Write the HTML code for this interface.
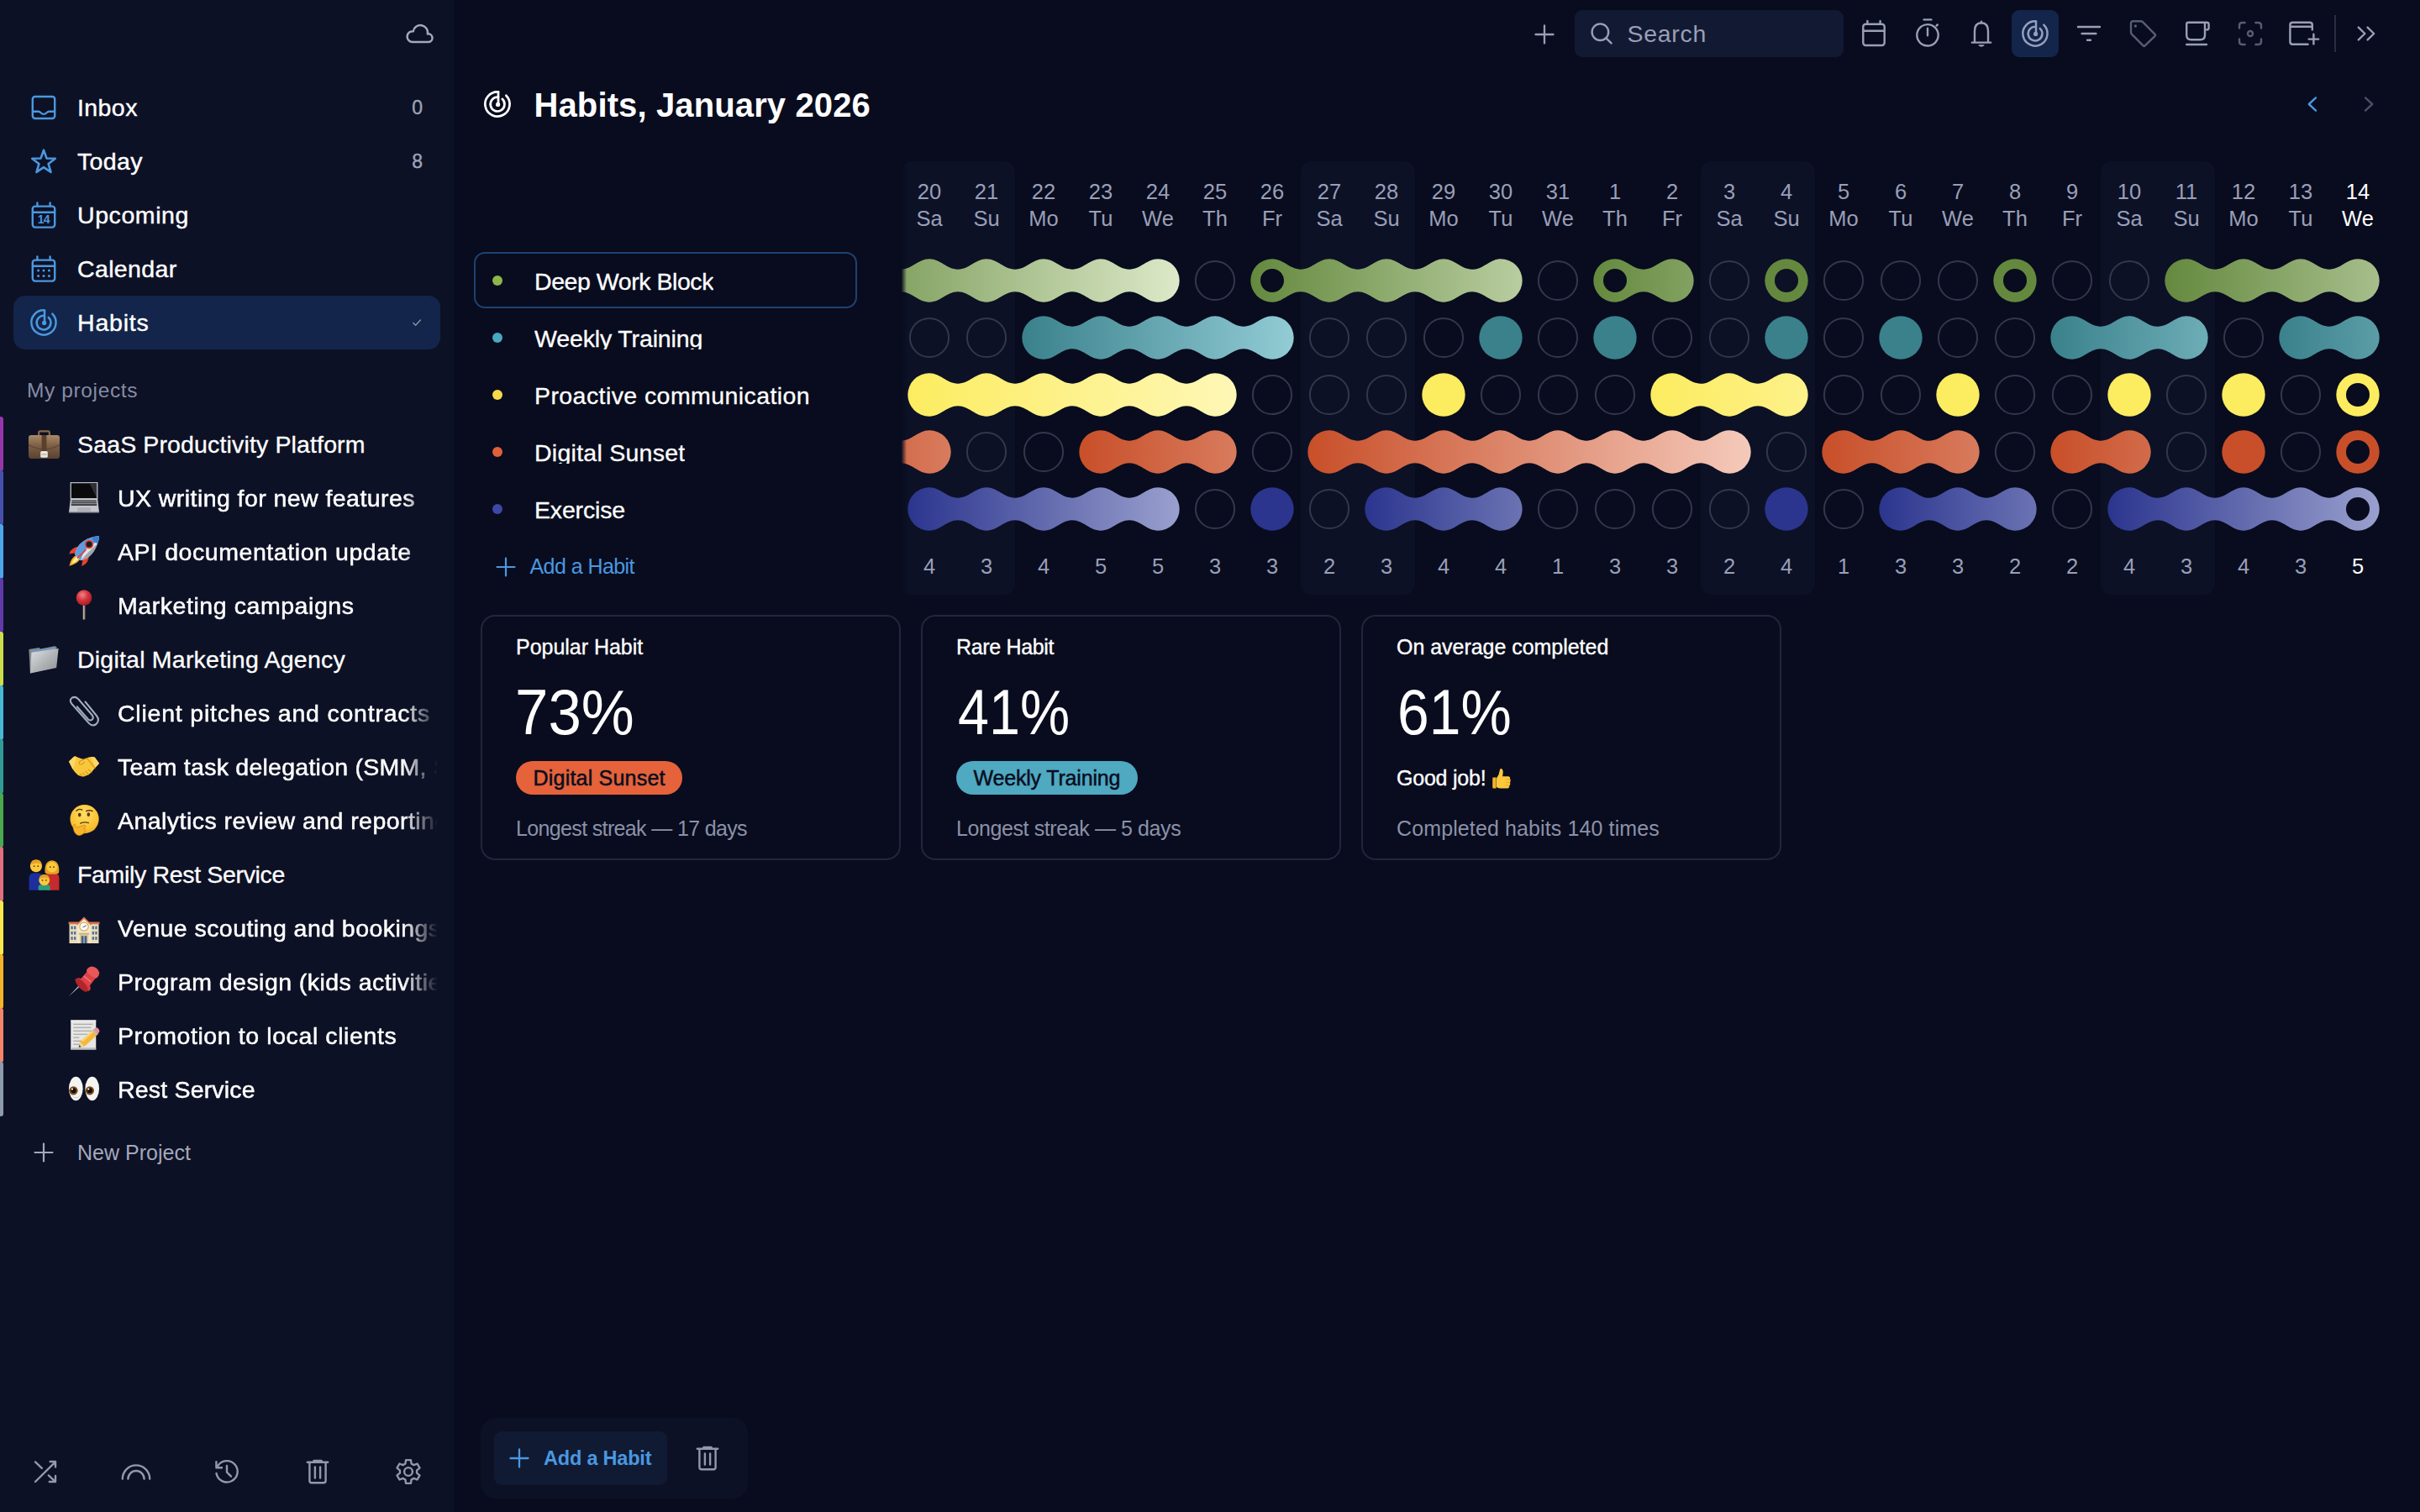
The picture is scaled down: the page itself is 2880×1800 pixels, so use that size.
<!DOCTYPE html>
<html lang="en"><head><meta charset="utf-8"><title>Habits</title><style>html,body{margin:0;padding:0}
body{width:2880px;height:1800px;overflow:hidden;background:#080c1e;font-family:"Liberation Sans", sans-serif;color:#fff;position:relative}
.a{position:absolute;box-sizing:content-box}
.t{position:absolute;white-space:nowrap}
svg{overflow:visible}</style></head><body>
<div class="a" style="left:0;top:0;width:540px;height:1800px;background:#0d1125"></div>
<svg class="a" style="left:480.0px;top:20.0px" width="40" height="40" viewBox="-20.0 -20.0 40 40" fill="none" stroke="#a4a9bf" stroke-width="2.5" stroke-linecap="round" stroke-linejoin="round"><path d="M-9.6 10.1H10.4A4.85 4.85 0 1 0 8.8 0.4A8.65 8.65 0 1 0 -8.2 -2.8A6.4 6.4 0 0 0 -9.6 10.1Z"/></svg>
<div class="a" style="left:16px;top:352px;width:508px;height:64px;border-radius:14px;background:#13254a"></div>
<svg class="a" style="left:34.0px;top:110.0px" width="36" height="36" viewBox="-18.0 -18.0 36 36" fill="none" stroke="#4a98e0" stroke-width="2.4" stroke-linecap="round" stroke-linejoin="round"><rect x="-13.2" y="-13" width="26.4" height="26" rx="3"/><path d="M-13 4.7H-6.6Q-4.9 4.7 -3.7 6Q0 9.8 3.7 6Q4.9 4.7 6.6 4.7H13"/></svg>
<svg class="a" style="left:34.0px;top:174.0px" width="36" height="36" viewBox="-18.0 -18.0 36 36" fill="none" stroke="#4a98e0" stroke-width="2.6" stroke-linecap="round" stroke-linejoin="round"><path d="M0.00 -13.30 L3.47 -3.57 L13.79 -3.28 L5.61 3.02 L8.52 12.93 L0.00 7.10 L-8.52 12.93 L-5.61 3.02 L-13.79 -3.28 L-3.47 -3.57Z"/></svg>
<svg class="a" style="left:34.0px;top:239.2px" width="36" height="36" viewBox="-18.0 -18.0 36 36" fill="none" stroke="#4a98e0" stroke-width="2.4" stroke-linecap="round" stroke-linejoin="round"><rect x="-13.2" y="-11.4" width="26.4" height="25" rx="3"/><path d="M-13 -4.2H13M-7.6 -15.6V-11.6M7.6 -15.6V-11.6"/><text x="-0.3" y="8.7" text-anchor="middle" font-family="Liberation Sans, sans-serif" font-size="14" font-weight="700" letter-spacing="-0.9" fill="#4a98e0" stroke="none">14</text></svg>
<svg class="a" style="left:34.0px;top:303.2px" width="36" height="36" viewBox="-18.0 -18.0 36 36" fill="none" stroke="#4a98e0" stroke-width="2.4" stroke-linecap="round" stroke-linejoin="round"><rect x="-13.2" y="-11.4" width="26.4" height="25" rx="3"/><path d="M-13 -4.2H13M-7.6 -15.6V-11.6M7.6 -15.6V-11.6"/><circle cx="-6.4" cy="1.1" r="1.5" fill="#4a98e0" stroke="none"/><circle cx="-6.4" cy="7.6" r="1.5" fill="#4a98e0" stroke="none"/><circle cx="0" cy="1.1" r="1.5" fill="#4a98e0" stroke="none"/><circle cx="0" cy="7.6" r="1.5" fill="#4a98e0" stroke="none"/><circle cx="6.4" cy="1.1" r="1.5" fill="#4a98e0" stroke="none"/><circle cx="6.4" cy="7.6" r="1.5" fill="#4a98e0" stroke="none"/></svg>
<svg class="a" style="left:32.0px;top:363.6px" width="40.0" height="40.0" viewBox="-20.0 -20.0 40 40" fill="none" stroke="#4a98e0" stroke-width="2.5" stroke-linecap="round" stroke-linejoin="round"><path d="M1 -14.60 A14.6 14.6 0 1 0 10.32 -10.32"/><path d="M1 -14.60 V0"/><path d="M1 -8.30 A8.4 8.4 0 1 0 5.73 -6.14"/><circle cx="0.6" cy="0.4" r="2.6" fill="#4a98e0" stroke="none"/></svg>
<div class="t" style="top:108.5px;height:39px;line-height:39px;font-size:28.5px;color:#fff;letter-spacing:0.416px;-webkit-text-stroke:0.4px #fff;left:92px;">Inbox</div>
<div class="t" style="top:112.0px;height:32px;line-height:32px;font-size:23px;color:#9ea3b8;-webkit-text-stroke:0.4px #9ea3b8;right:2377px;text-align:right;">0</div>
<div class="t" style="top:172.5px;height:39px;line-height:39px;font-size:28.5px;color:#fff;letter-spacing:0.334px;-webkit-text-stroke:0.4px #fff;left:92px;">Today</div>
<div class="t" style="top:176.0px;height:32px;line-height:32px;font-size:23px;color:#9ea3b8;-webkit-text-stroke:0.4px #9ea3b8;right:2377px;text-align:right;">8</div>
<div class="t" style="top:236.5px;height:39px;line-height:39px;font-size:28.5px;color:#fff;letter-spacing:0.584px;-webkit-text-stroke:0.4px #fff;left:92px;">Upcoming</div>
<div class="t" style="top:300.5px;height:39px;line-height:39px;font-size:28.5px;color:#fff;letter-spacing:0.363px;-webkit-text-stroke:0.4px #fff;left:92px;">Calendar</div>
<div class="t" style="top:364.5px;height:39px;line-height:39px;font-size:28.5px;color:#fff;letter-spacing:0.801px;-webkit-text-stroke:0.4px #fff;left:92px;">Habits</div>
<svg class="a" style="left:487.5px;top:376.0px" width="16" height="16" viewBox="-8.0 -8.0 16 16" fill="none" stroke="#8d92a8" stroke-width="1.4" stroke-linecap="round" stroke-linejoin="round"><path d="M-4.2 0.6L-1.4 3.2L4.4 -3"/></svg>
<div class="t" style="top:447.5px;height:34px;line-height:34px;font-size:24.5px;color:#868ca4;letter-spacing:0.623px;left:32px;">My projects</div>
<div class="a" style="left:0;top:496px;width:4px;height:65px;border-radius:0 3px 3px 0;background:#9636ab"></div>
<svg class="a" style="left:32.5px;top:510.0px" width="39" height="39" viewBox="0 0 40 40" preserveAspectRatio="none"><title>💼</title><defs><linearGradient id="gbc" x1="0" y1="0" x2="0" y2="1"><stop offset="0" stop-color="#a98a68"/><stop offset=".45" stop-color="#7d6046"/><stop offset="1" stop-color="#5b4330"/></linearGradient></defs>
<path d="M13.5 8.5V5.2Q13.5 3.4 15.3 3.4H24.7Q26.5 3.4 26.5 5.2V8.5" fill="none" stroke="#8a6a48" stroke-width="2.2"/>
<rect x="1" y="8.2" width="38" height="28.6" rx="3.2" fill="url(#gbc)"/>
<path d="M1 20Q20 31 39 20" fill="none" stroke="#4f3a28" stroke-width="1.2" opacity=".7"/>
<rect x="17" y="8.2" width="6" height="22" fill="#5a3f2a"/>
<rect x="15.6" y="27.6" width="8.8" height="8" rx="1.6" fill="#e9e6e2"/><rect x="17" y="31" width="6" height="1.4" fill="#b9b4ae"/></svg>
<div class="t" style="top:509.5px;height:39px;line-height:39px;font-size:28.5px;color:#fff;letter-spacing:0.141px;-webkit-text-stroke:0.3px #fff;left:92px;width:436px;overflow:hidden;white-space:nowrap;">SaaS Productivity Platform</div>
<div class="a" style="left:0;top:560px;width:4px;height:65px;border-radius:0 3px 3px 0;background:#4650ac"></div>
<svg class="a" style="left:81.0px;top:572.0px" width="38" height="40" viewBox="0 0 40 40" preserveAspectRatio="none"><title>💻</title><path d="M3.4 2.6H36.6V21.6H3.4Z" fill="#0a0a0c" stroke="#b9bcc2" stroke-width="1.4"/>
<path d="M27 3.4H35.8V20.8Z" fill="#2e3034"/>
<path d="M3 22H37L39 38H1Z" fill="#c3c6cb"/>
<path d="M4.6 23.4H35.4L36.2 30H3.8Z" fill="#3c3e44"/>
<path d="M4.2 25.4H35.8M4 27.6H36" stroke="#c3c6cb" stroke-width=".7"/>
<path d="M12 32.2H28L28.6 36.8H11.4Z" fill="#aeb1b7"/>
<path d="M1 37H39V38.4H1Z" fill="#90939a"/></svg>
<div class="t" style="top:573.5px;height:39px;line-height:39px;font-size:28.5px;color:#fff;letter-spacing:0.437px;-webkit-text-stroke:0.5px #fff;left:140px;width:380px;overflow:hidden;white-space:nowrap;-webkit-mask-image:linear-gradient(90deg,#000 340px,transparent 381px);">UX writing for new features</div>
<div class="a" style="left:0;top:624px;width:4px;height:65px;border-radius:0 3px 3px 0;background:#4ca6ec"></div>
<svg class="a" style="left:81.0px;top:637.0px" width="38" height="38" viewBox="0 0 40 40" preserveAspectRatio="none"><title>🚀</title><path d="M11 22L1.4 23.6Q4.6 14 16 14.6Z" fill="#e5432e"/>
<path d="M18.6 29.6L17 39Q26.6 35.6 26 24.6Z" fill="#e5432e"/>
<path d="M10.6 25Q3.4 28.6 1.6 38.6Q11.4 36.6 15.6 29.6Z" fill="#fbb42c"/>
<path d="M11.4 27Q6.6 29.8 4.8 35.4Q10.2 33.8 13.6 29.4Z" fill="#fff3a8"/>
<path d="M8.6 24.4Q11 9 29.6 3Q36 1 39 1.2Q39.2 4 37 10.6Q30.6 29 16 31.8Z" fill="#e1e5ea"/>
<path d="M8.6 24.4Q11 9 29.6 3Q31.4 7 36.4 8.6Q20 14 16 31.8Z" fill="#5e9be0"/>
<path d="M29.6 3Q36 1 39 1.2Q39.2 4 37 10.6Q31.4 9.6 29.6 3Z" fill="#3f7fd0"/>
<path d="M22 25Q29 18 37 10.6Q30.6 29 16 31.8Z" fill="#8e949e" opacity=".8"/>
<circle cx="26.4" cy="11.6" r="4.6" fill="#1c1c22" stroke="#e5432e" stroke-width="1.8"/>
<path d="M11.6 29L22.6 18" stroke="#e5432e" stroke-width="1.8"/></svg>
<div class="t" style="top:637.5px;height:39px;line-height:39px;font-size:28.5px;color:#fff;letter-spacing:0.569px;-webkit-text-stroke:0.5px #fff;left:140px;width:380px;overflow:hidden;white-space:nowrap;-webkit-mask-image:linear-gradient(90deg,#000 340px,transparent 381px);">API documentation update</div>
<div class="a" style="left:0;top:688px;width:4px;height:65px;border-radius:0 3px 3px 0;background:#5f3aa8"></div>
<svg class="a" style="left:81.0px;top:701.0px" width="38" height="38" viewBox="0 0 40 40" preserveAspectRatio="none"><title>📍</title><defs><radialGradient id="grp" cx=".4" cy=".32" r=".7"><stop offset="0" stop-color="#f2838a"/><stop offset=".5" stop-color="#d8343c"/><stop offset="1" stop-color="#9c1d26"/></radialGradient></defs>
<rect x="18.8" y="18" width="2.6" height="20.4" fill="#9a8878"/><rect x="18.8" y="18" width="1" height="20.4" fill="#c9bdb0"/>
<circle cx="20" cy="11.2" r="9.8" fill="url(#grp)"/></svg>
<div class="t" style="top:701.5px;height:39px;line-height:39px;font-size:28.5px;color:#fff;letter-spacing:0.562px;-webkit-text-stroke:0.5px #fff;left:140px;width:380px;overflow:hidden;white-space:nowrap;-webkit-mask-image:linear-gradient(90deg,#000 340px,transparent 381px);">Marketing campaigns</div>
<div class="a" style="left:0;top:752px;width:4px;height:65px;border-radius:0 3px 3px 0;background:#cbdc4c"></div>
<svg class="a" style="left:32.5px;top:767.0px" width="39" height="37" viewBox="0 0 40 40" preserveAspectRatio="none"><title>📁</title><defs><linearGradient id="gfo" x1="0" y1="0" x2="1" y2="1"><stop offset="0" stop-color="#dfe1e3"/><stop offset=".5" stop-color="#b4b7ba"/><stop offset="1" stop-color="#8c8f92"/></linearGradient></defs>
<path d="M1.4 6.6L14 4.2L15.4 6L34 2.2V30L3 37.4Z" fill="#85888c"/>
<path d="M4 8.4L35.6 3.6V5L4.6 10.2Z" fill="#6e9ac8"/>
<path d="M4.6 10.600000000000001L37.6 5.4L35 30.2L3 37.4Z" fill="url(#gfo)"/></svg>
<div class="t" style="top:765.5px;height:39px;line-height:39px;font-size:28.5px;color:#fff;letter-spacing:0.219px;-webkit-text-stroke:0.3px #fff;left:92px;width:436px;overflow:hidden;white-space:nowrap;">Digital Marketing Agency</div>
<div class="a" style="left:0;top:816px;width:4px;height:65px;border-radius:0 3px 3px 0;background:#45b9d6"></div>
<svg class="a" style="left:81.0px;top:829.0px" width="38" height="38" viewBox="0 0 40 40" preserveAspectRatio="none"><title>📎</title><path d="M21.5 6.8L36 24.6Q40 30.2 35.4 34.6Q30.6 38.4 26 33.6L4.6 9.4Q1 4.6 5 1.8Q9.4 -0.6 13 3.6L30.2 23.6Q32.6 27 30 29.2Q27.200000000000003 31 25 28.6L11.4 13" fill="none" stroke="#b9c6d6" stroke-width="2.1" stroke-linecap="round"/>
<path d="M21.5 6.8L36 24.6Q40 30.2 35.4 34.6Q30.6 38.4 26 33.6L4.6 9.4Q1 4.6 5 1.8Q9.4 -0.6 13 3.6L30.2 23.6Q32.6 27 30 29.2Q27.200000000000003 31 25 28.6L11.4 13" fill="none" stroke="#6f8098" stroke-width=".6" stroke-linecap="round"/></svg>
<div class="t" style="top:829.5px;height:39px;line-height:39px;font-size:28.5px;color:#fff;letter-spacing:0.785px;-webkit-text-stroke:0.5px #fff;left:140px;width:380px;overflow:hidden;white-space:nowrap;-webkit-mask-image:linear-gradient(90deg,#000 340px,transparent 381px);">Client pitches and contracts</div>
<div class="a" style="left:0;top:880px;width:4px;height:65px;border-radius:0 3px 3px 0;background:#2f9c94"></div>
<svg class="a" style="left:81.0px;top:893.0px" width="38" height="38" viewBox="0 0 40 40" preserveAspectRatio="none"><title>🤝</title><path d="M1 14.2L7.4 8.2Q9 7.4 10.6 8.4L16 10.4L20 11.6L24.6 9.6Q29 7.6 33.4 9L39 16.7L33.6 22.6L29.2 27.9Q26 31.6 20.8 33Q16.4 33.6 12.4 31.3Q8.4 28 5.7 23.6Z" fill="#f8c73c"/>
<path d="M1 14.2L7.4 8.2Q9 7.4 10.6 8.4L6.6 22.4L5.7 23.6Z" fill="#fbd969"/>
<path d="M39 16.7L33.4 9Q31 8.2 29 8.6L34.4 21.6Z" fill="#fbd969"/>
<path d="M14.6 14.2L21.6 10.8Q24 10.4 25.6 12.4L33.6 22.6" fill="none" stroke="#d9981c" stroke-width="1.3" stroke-linecap="round"/>
<path d="M14.6 14.2Q12.6 17.6 15.6 18.2Q18.6 17.6 20.6 15" fill="none" stroke="#d9981c" stroke-width="1.2" stroke-linecap="round"/>
<path d="M25.6 24.4L29.2 27.9M22 26.8L25.6 30.4M18.4 28.6L21.6 32M15 29.6L17.4 32.4" fill="none" stroke="#d9981c" stroke-width="1.2" stroke-linecap="round"/></svg>
<div class="t" style="top:893.5px;height:39px;line-height:39px;font-size:28.5px;color:#fff;letter-spacing:0.25px;-webkit-text-stroke:0.5px #fff;left:140px;width:380px;overflow:hidden;white-space:nowrap;-webkit-mask-image:linear-gradient(90deg,#000 340px,transparent 381px);">Team task delegation (SMM, SEO)</div>
<div class="a" style="left:0;top:944px;width:4px;height:65px;border-radius:0 3px 3px 0;background:#4aa84e"></div>
<svg class="a" style="left:81.0px;top:957.0px" width="38" height="38" viewBox="0 0 40 40" preserveAspectRatio="none"><title>🤔</title><defs><radialGradient id="gth" cx=".5" cy=".35" r=".75"><stop offset="0" stop-color="#ffe064"/><stop offset=".7" stop-color="#fbbf30"/><stop offset="1" stop-color="#e79a1c"/></radialGradient></defs>
<circle cx="20.6" cy="19" r="18" fill="url(#gth)"/>
<ellipse cx="14.4" cy="13.8" rx="1.9" ry="2.5" fill="#5a3a14"/><ellipse cx="25.6" cy="13.4" rx="1.9" ry="2.5" fill="#5a3a14"/>
<path d="M10.4 8.6Q14 5.4 17.6 7.6M22.8 9.2Q26.4 7.2 30.6 9" fill="none" stroke="#5a3a14" stroke-width="1.5" stroke-linecap="round"/>
<path d="M15.6 24.4Q20.4 22 25.6 23.8" fill="none" stroke="#5a3a14" stroke-width="1.5" stroke-linecap="round"/>
<path d="M6.6 30.6Q5.4 26.4 8.4 25.4L10.6 30L19.6 26.6Q22 26.4 22 28.4Q21.8 29.8 19.6 30.6Q22 31.6 21.4 34Q20.4 38 14.6 39.4Q8.4 39.8 6.6 30.6Z" fill="#f7b52c" stroke="#d98c14" stroke-width=".9"/></svg>
<div class="t" style="top:957.5px;height:39px;line-height:39px;font-size:28.5px;color:#fff;letter-spacing:0.45px;-webkit-text-stroke:0.5px #fff;left:140px;width:380px;overflow:hidden;white-space:nowrap;-webkit-mask-image:linear-gradient(90deg,#000 340px,transparent 381px);">Analytics review and reporting</div>
<div class="a" style="left:0;top:1008px;width:4px;height:65px;border-radius:0 3px 3px 0;background:#e0707e"></div>
<svg class="a" style="left:32.5px;top:1021.5px" width="39" height="39" viewBox="0 0 40 40" preserveAspectRatio="none"><title>👨‍👩‍👦</title><path d="M1.6 38.6V24Q1.6 17.6 8 17.6H12.6Q18.6 17.6 18.6 24V38.6Z" fill="#1c2f9c"/>
<path d="M21.4 38.6V24Q21.4 17.6 27 17.6H32Q38.4 17.6 38.4 24V38.6Z" fill="#c62a2c"/>
<path d="M21.2 17.6Q19.6 3 29.6 2.2Q39.6 3 38 17.6Q34 20 29.6 19Q25 20 21.2 17.6Z" fill="#e6a226"/>
<circle cx="29.6" cy="10.6" r="6.4" fill="#fcc83c"/>
<circle cx="10.2" cy="9.4" r="7.2" fill="#fcc83c"/><path d="M3.2 7.6Q4 1.6 10.2 1.4Q16.6 1.6 17.2 7.6Q13 3.8 3.2 7.6Z" fill="#e6a226"/>
<path d="M13 38.6V35.2Q13 32 16.4 32H24Q27.4 32 27.4 35.2V38.6Z" fill="#2e9e7a"/>
<circle cx="20.2" cy="26.4" r="6.6" fill="#fcc83c"/><path d="M13.8 25Q14.4 19.6 20.2 19.4Q26 19.6 26.6 25Q22 21.6 13.8 25Z" fill="#e6a226"/>
<g fill="#5a3a14"><circle cx="7.8" cy="9.4" r=".9"/><circle cx="12.6" cy="9.4" r=".9"/><circle cx="27.400000000000002" cy="10.4" r=".9"/><circle cx="31.8" cy="10.4" r=".9"/><circle cx="18" cy="26.6" r=".9"/><circle cx="22.4" cy="26.6" r=".9"/></g></svg>
<div class="t" style="top:1021.5px;height:39px;line-height:39px;font-size:28.5px;color:#fff;letter-spacing:-0.338px;-webkit-text-stroke:0.3px #fff;left:92px;width:436px;overflow:hidden;white-space:nowrap;">Family Rest Service</div>
<div class="a" style="left:0;top:1072px;width:4px;height:65px;border-radius:0 3px 3px 0;background:#fbe84c"></div>
<svg class="a" style="left:81.0px;top:1089.5px" width="38" height="36" viewBox="0 0 40 40" preserveAspectRatio="none"><title>🏫</title><path d="M1.6 10.6H38.4V36.6H1.6Z" fill="#eadcb8"/>
<path d="M0.6 8.2H39.4V11.4H0.6Z" fill="#d8714e"/>
<path d="M11.6 11L20 2.4L28.4 11V36.6H11.6Z" fill="#f3e7c8"/>
<path d="M10.4 11.6L20 1.6L29.6 11.6L28 12.6L20 4.4L12 12.6Z" fill="#d8714e"/>
<circle cx="20" cy="14.6" r="5.4" fill="#fff" stroke="#c9a24a" stroke-width="1.1"/><path d="M20 14.6L23 13M20 14.6L18.4 15.2" stroke="#333" stroke-width=".9"/>
<g fill="#4a6f9e"><rect x="3.6" y="14" width="2.4" height="4"/><rect x="7.4" y="14" width="2.4" height="4"/><rect x="3.6" y="21" width="2.4" height="4"/><rect x="7.4" y="21" width="2.4" height="4"/><rect x="3.6" y="28" width="2.4" height="4"/><rect x="7.4" y="28" width="2.4" height="4"/>
<rect x="30.2" y="14" width="2.4" height="4"/><rect x="34" y="14" width="2.4" height="4"/><rect x="30.2" y="21" width="2.4" height="4"/><rect x="34" y="21" width="2.4" height="4"/><rect x="30.2" y="28" width="2.4" height="4"/><rect x="34" y="28" width="2.4" height="4"/></g>
<path d="M14.6 24.6H25.4V36.6H14.6Z" fill="#d9c79a"/><path d="M16.6 27H19.4V36.6H16.6ZM20.6 27H23.4V36.6H20.6Z" fill="#3d5f8c"/>
<path d="M13.4 23H26.6V25H13.4Z" fill="#c9b27c"/></svg>
<div class="t" style="top:1085.5px;height:39px;line-height:39px;font-size:28.5px;color:#fff;letter-spacing:0.45px;-webkit-text-stroke:0.5px #fff;left:140px;width:380px;overflow:hidden;white-space:nowrap;-webkit-mask-image:linear-gradient(90deg,#000 340px,transparent 381px);">Venue scouting and bookings</div>
<div class="a" style="left:0;top:1136px;width:4px;height:65px;border-radius:0 3px 3px 0;background:#f5b228"></div>
<svg class="a" style="left:81.0px;top:1149.0px" width="38" height="38" viewBox="0 0 40 40" preserveAspectRatio="none"><title>📌</title><path d="M1 39L16.6 22.6L18 24Z" fill="#9aa4b4"/><path d="M1 39L16.6 22.6L17.2 23.2Z" fill="#e4e8ee"/>
<path d="M8.6 18.6Q10.6 14.6 16.4 16.6Q24 20 27.6 26.4Q29.4 31 25.4 32.6Q20 28 8.6 18.6Z" fill="#d63a3e"/>
<ellipse cx="17" cy="25" rx="4.2" ry="10.6" transform="rotate(-43 17 25)" fill="#b0242c"/>
<path d="M15.6 17.6L25 6.6L35 15.4L26.6 26.6Z" fill="#de4146"/>
<path d="M23 7.6Q23.6 2.6 29.6 1.6Q36.6 2.2 39 8.6Q39.4 13.6 35 16.6Q28 14 23 7.6Z" fill="#e9575a"/>
<path d="M19.6 13.6L28.6 21" stroke="#f08a8c" stroke-width="1.6" opacity=".7"/></svg>
<div class="t" style="top:1149.5px;height:39px;line-height:39px;font-size:28.5px;color:#fff;letter-spacing:0.45px;-webkit-text-stroke:0.5px #fff;left:140px;width:380px;overflow:hidden;white-space:nowrap;-webkit-mask-image:linear-gradient(90deg,#000 340px,transparent 381px);">Program design (kids activities)</div>
<div class="a" style="left:0;top:1200px;width:4px;height:65px;border-radius:0 3px 3px 0;background:#f2846a"></div>
<svg class="a" style="left:81.0px;top:1213.0px" width="38" height="38" viewBox="0 0 40 40" preserveAspectRatio="none"><title>📝</title><path d="M3.4 1.6H35V38.4H3.4Z" fill="#e6e6e4"/><path d="M3.4 1.6H35V3H3.4Z" fill="#f6f6f4"/><path d="M3.4 36H35V38.4H3.4Z" fill="#bdbdbb"/>
<g stroke="#77797e" stroke-width=".9" opacity=".8"><path d="M6.6 6.6H31M6.6 10.8H29M6.6 15H31.6M6.6 19.2H24M6.6 23.4H14M6.6 27.6H20M6.6 31.8H15"/></g>
<path d="M13.4 35.6L15 28.6L31.4 13.6L37 19.6L20.6 34.4Z" fill="#f6b83a"/>
<path d="M16.8 27L33 12.2L34.6 14L18.4 28.8Z" fill="#fbd66a"/>
<path d="M31.4 13.6L34.2 11.2Q36 10.2 37.6 11.8L39 13.6Q40 15.6 38.6 17L37 19.6Z" fill="#ee8e96"/>
<path d="M30.2 14.8L31.8 13.2L37.4 19.2L35.8 20.6Z" fill="#b9bec6"/>
<path d="M13.4 35.6L15 28.6L20.6 34.4Z" fill="#ecd3a4"/><path d="M13.4 35.6L14 32.6L16.4 35Z" fill="#3a3a3a"/></svg>
<div class="t" style="top:1213.5px;height:39px;line-height:39px;font-size:28.5px;color:#fff;letter-spacing:0.595px;-webkit-text-stroke:0.5px #fff;left:140px;width:380px;overflow:hidden;white-space:nowrap;-webkit-mask-image:linear-gradient(90deg,#000 340px,transparent 381px);">Promotion to local clients</div>
<div class="a" style="left:0;top:1264px;width:4px;height:65px;border-radius:0 3px 3px 0;background:#8c9cae"></div>
<svg class="a" style="left:81.0px;top:1277.0px" width="38" height="38" viewBox="0 0 40 40" preserveAspectRatio="none"><title>👀</title><ellipse cx="9.8" cy="20" rx="8.8" ry="15" fill="#f4f4f2"/><ellipse cx="30.2" cy="20" rx="8.8" ry="15" fill="#f4f4f2"/>
<path d="M1.4 24Q9.8 40 18.2 24Q9.8 38 1.4 24Z" fill="#c9c9c7"/>
<circle cx="6.8" cy="22.4" r="5.4" fill="#7a4a1c"/><circle cx="27.2" cy="22.4" r="5.4" fill="#7a4a1c"/>
<circle cx="6.8" cy="22.4" r="3.2" fill="#140c06"/><circle cx="27.2" cy="22.4" r="3.2" fill="#140c06"/>
<circle cx="5.2" cy="20.6" r="1.2" fill="#fff"/><circle cx="25.6" cy="20.6" r="1.2" fill="#fff"/></svg>
<div class="t" style="top:1277.5px;height:39px;line-height:39px;font-size:28.5px;color:#fff;letter-spacing:0.185px;-webkit-text-stroke:0.5px #fff;left:140px;width:380px;overflow:hidden;white-space:nowrap;-webkit-mask-image:linear-gradient(90deg,#000 340px,transparent 381px);">Rest Service</div>
<svg class="a" style="left:36.0px;top:1356.0px" width="32" height="32" viewBox="-16.0 -16.0 32 32" fill="none" stroke="#a3a8bc" stroke-width="2.2" stroke-linecap="round" stroke-linejoin="round"><path d="M-10.5 0H10.5M0 -10.5V10.5"/></svg>
<div class="t" style="top:1354.5px;height:35px;line-height:35px;font-size:25px;color:#a3a8bc;letter-spacing:0.023px;left:92px;">New Project</div>
<svg class="a" style="left:36.0px;top:1734.0px" width="36" height="36" viewBox="-18.0 -18.0 36 36" fill="none" stroke="#9498ad" stroke-width="2.4" stroke-linecap="round" stroke-linejoin="round"><path d="M-12 12L11.6 -11.4M5.6 -12H12V-5.6M-12 -11.6L-4.2 -4.2M3.8 4.4L11.6 11.6M4.8 12H12V5"/></svg>
<svg class="a" style="left:142.0px;top:1732.0px" width="40" height="40" viewBox="-20.0 -20.0 40 40" fill="none" stroke="#9498ad" stroke-width="2.4" stroke-linecap="round" stroke-linejoin="round"><path d="M-16.2 8.6A16.2 16.2 0 0 1 16.2 8.6M-9.6 8.6A9.6 9.6 0 0 1 9.6 8.6"/></svg>
<svg class="a" style="left:252.0px;top:1734.0px" width="36" height="36" viewBox="-18.0 -18.0 36 36" fill="none" stroke="#9498ad" stroke-width="2.4" stroke-linecap="round" stroke-linejoin="round"><path d="M-10.6 -7.2A12.7 12.7 0 1 1 -12.5 2M-12.6 -11.8V-4.8H-6"/><path d="M0 -7V0.6L5 5.6"/></svg>
<svg class="a" style="left:360.0px;top:1734.0px" width="36" height="36" viewBox="-18.0 -18.0 36 36" fill="none" stroke="#9498ad" stroke-width="2.4" stroke-linecap="round" stroke-linejoin="round"><path d="M-12.2 -11.3H12.2"/><path d="M-4.4 -12.6H4.4" stroke-width="3.2"/><path d="M-9.6 -11V10.8Q-9.6 13.3 -7.1 13.3H7.1Q9.6 13.3 9.6 10.8V-11"/><path d="M-3.1 -5.6V7.6M3.1 -5.6V7.6"/></svg>
<svg class="a" style="left:466.0px;top:1732.0px" width="40" height="40" viewBox="-20.0 -20.0 40 40" fill="none" stroke="#9498ad" stroke-width="2.4" stroke-linecap="round" stroke-linejoin="round"><path d="M-3.59 -9.55 L-2.96 -13.89 L2.96 -13.89 L3.59 -9.55 L6.47 -7.88 L10.55 -9.51 L13.51 -4.38 L10.06 -1.66 L10.06 1.66 L13.51 4.38 L10.55 9.51 L6.47 7.88 L3.59 9.55 L2.96 13.89 L-2.96 13.89 L-3.59 9.55 L-6.47 7.88 L-10.55 9.51 L-13.51 4.38 L-10.06 1.66 L-10.06 -1.66 L-13.51 -4.38 L-10.55 -9.51 L-6.47 -7.88Z"/><circle r="4.9"/></svg>
<svg class="a" style="left:1822.0px;top:24.5px" width="32" height="32" viewBox="-16.0 -16.0 32 32" fill="none" stroke="#9a9fb6" stroke-width="2.3" stroke-linecap="round" stroke-linejoin="round"><path d="M-10.5 0H10.5M0 -10.5V10.5"/></svg>
<div class="a" style="left:1874px;top:12px;width:320px;height:56px;border-radius:9px;background:#121a33"></div>
<svg class="a" style="left:1888.0px;top:22.0px" width="36" height="36" viewBox="-18.0 -18.0 36 36" fill="none" stroke="#9a9fb6" stroke-width="2.4" stroke-linecap="round" stroke-linejoin="round"><circle cx="-1.6" cy="-1.8" r="9.8"/><path d="M5.6 5.6L11.6 11.4"/></svg>
<div class="t" style="top:21.0px;height:39px;line-height:39px;font-size:28.5px;color:#9a9fb6;letter-spacing:0.7px;left:1936.5px;">Search</div>
<svg class="a" style="left:2212.0px;top:22.0px" width="36" height="36" viewBox="-18.0 -18.0 36 36" fill="none" stroke="#9a9fb6" stroke-width="2.4" stroke-linecap="round" stroke-linejoin="round"><rect x="-12.7" y="-11.2" width="25.4" height="25.2" rx="3"/><path d="M-12.6 -3.2H12.6M-7.6 -15V-11.4M7.6 -15V-11.4"/></svg>
<svg class="a" style="left:2276.0px;top:22.0px" width="36" height="36" viewBox="-18.0 -18.0 36 36" fill="none" stroke="#9a9fb6" stroke-width="2.4" stroke-linecap="round" stroke-linejoin="round"><circle cx="0" cy="1.8" r="12.7"/><path d="M-4.4 -16.6H4.4M0 -6.2V2.2M10.6 -9.4L11.8 -10.6"/></svg>
<svg class="a" style="left:2340.0px;top:22.0px" width="36" height="36" viewBox="-18.0 -18.0 36 36" fill="none" stroke="#9a9fb6" stroke-width="2.4" stroke-linecap="round" stroke-linejoin="round"><path d="M-11.2 10.6H11.2M-8 10.4V-3.2Q-8 -12.6 0 -12.8Q8 -12.6 8 -3.2V10.4M0 -12.8V-14.4"/><path d="M-3 13.8Q0 16.4 3 13.8Z" fill="#9a9fb6" stroke-width="1.2"/></svg>
<div class="a" style="left:2394px;top:12px;width:56px;height:56px;border-radius:9px;background:#13254a"></div>
<svg class="a" style="left:2402.0px;top:20.0px" width="40.0" height="40.0" viewBox="-20.0 -20.0 40 40" fill="none" stroke="#94a0c0" stroke-width="2.5" stroke-linecap="round" stroke-linejoin="round"><path d="M1 -14.60 A14.6 14.6 0 1 0 10.32 -10.32"/><path d="M1 -14.60 V0"/><path d="M1 -8.30 A8.4 8.4 0 1 0 5.73 -6.14"/><circle cx="0.6" cy="0.4" r="2.6" fill="#94a0c0" stroke="none"/></svg>
<svg class="a" style="left:2468.0px;top:22.0px" width="36" height="36" viewBox="-18.0 -18.0 36 36" fill="none" stroke="#9a9fb6" stroke-width="2.4" stroke-linecap="round" stroke-linejoin="round"><path d="M-13 -8H13M-8.4 0H8.4M-2 7.8H2"/></svg>
<svg class="a" style="left:2530.0px;top:20.0px" width="40" height="40" viewBox="-20.0 -20.0 40 40" fill="none" stroke="#585d74" stroke-width="2.4" stroke-linecap="round" stroke-linejoin="round"><path d="M-14 -12.2Q-14 -14.8 -11.4 -14.8H-2.4Q-1 -14.8 0 -13.8L14.6 0.8Q15.6 1.8 14.6 2.8L2.6 14.4Q1.6 15.4 0.6 14.4L-13.2 0.6Q-14 -0.2 -14 -1.4Z"/><circle cx="-8.6" cy="-9" r="1.7" fill="#585d74" stroke="none"/></svg>
<svg class="a" style="left:2594.0px;top:20.0px" width="40" height="40" viewBox="-20.0 -20.0 40 40" fill="none" stroke="#9a9fb6" stroke-width="2.4" stroke-linecap="round" stroke-linejoin="round"><path d="M-11.8 -11.2Q-11.8 -13.2 -9.8 -13.2H10V1.8Q10 7.2 4.6 7.2H-6.4Q-11.8 7.2 -11.8 1.8ZM10 -13.2H12.4Q14.6 -13.2 14.6 -11V-6.8Q14.6 -4.6 12.4 -4.6H10M-11.8 13H12"/></svg>
<svg class="a" style="left:2658.0px;top:20.0px" width="40" height="40" viewBox="-20.0 -20.0 40 40" fill="none" stroke="#585d74" stroke-width="2.4" stroke-linecap="round" stroke-linejoin="round"><path d="M-13 -6.4V-9.6Q-13 -13 -9.6 -13H-6.4M6.4 -13H9.6Q13 -13 13 -9.6V-6.4M13 6.4V9.6Q13 13 9.6 13H6.4M-6.4 13H-9.6Q-13 13 -13 9.6V6.4"/><circle r="3"/></svg>
<svg class="a" style="left:2720.0px;top:18.0px" width="44" height="44" viewBox="-22.0 -22.0 44 44" fill="none" stroke="#9a9fb6" stroke-width="2.4" stroke-linecap="round" stroke-linejoin="round"><path d="M9.8 -4.6V-10.2Q9.8 -13.2 6.8 -13.2H-13.6Q-16.6 -13.2 -16.6 -10.2V9.8Q-16.6 12.8 -13.6 12.8H4.6M-16.4 -8.2H9.6M5.6 6.6H17.2M11.4 0.8V12.4"/></svg>
<div class="a" style="left:2778px;top:18px;width:2px;height:44px;background:#292d44"></div>
<svg class="a" style="left:2798.0px;top:22.0px" width="36" height="36" viewBox="-18.0 -18.0 36 36" fill="none" stroke="#9a9fb6" stroke-width="2.4" stroke-linecap="round" stroke-linejoin="round"><path d="M-9.2 -7.4L-1.6 0L-9.2 7.4M1.6 -7.4L9.2 0L1.6 7.4"/></svg>
<svg class="a" style="left:572.0px;top:104.2px" width="40.0" height="40.0" viewBox="-20.0 -20.0 40 40" fill="none" stroke="#fff" stroke-width="2.7" stroke-linecap="round" stroke-linejoin="round"><path d="M1 -14.60 A14.6 14.6 0 1 0 10.32 -10.32"/><path d="M1 -14.60 V0"/><path d="M1 -8.30 A8.4 8.4 0 1 0 5.73 -6.14"/><circle cx="0.6" cy="0.4" r="2.6" fill="#fff" stroke="none"/></svg>
<div class="t" style="top:96.5px;height:56px;line-height:56px;font-size:40px;color:#fff;font-weight:700;letter-spacing:0.12px;left:635.5px;">Habits, January 2026</div>
<svg class="a" style="left:2734.0px;top:106.0px" width="36" height="36" viewBox="-18.0 -18.0 36 36" fill="none" stroke="#4a98e0" stroke-width="2.4" stroke-linecap="round" stroke-linejoin="round"><path d="M4 -7.6L-4.2 0L4 7.6"/></svg>
<svg class="a" style="left:2801.0px;top:106.0px" width="36" height="36" viewBox="-18.0 -18.0 36 36" fill="none" stroke="#4a4f68" stroke-width="2.4" stroke-linecap="round" stroke-linejoin="round"><path d="M-4 -7.6L4.2 0L-4 7.6"/></svg>
<div class="a" style="left:564px;top:300px;width:452px;height:63px;border:2px solid #1e4272;border-radius:13px"></div>
<div class="a" style="left:586px;top:328px;width:12px;height:12px;border-radius:6px;background:#8db74a"></div>
<div class="t" style="top:321.5px;height:26px;line-height:26px;font-size:28.5px;color:#fff;letter-spacing:-0.446px;-webkit-text-stroke:0.3px #fff;left:636px;overflow:hidden;">Deep Work Block</div>
<div class="a" style="left:586px;top:396px;width:12px;height:12px;border-radius:6px;background:#49a9c1"></div>
<div class="t" style="top:389.5px;height:26px;line-height:26px;font-size:28.5px;color:#fff;letter-spacing:-0.138px;-webkit-text-stroke:0.3px #fff;left:636px;overflow:hidden;">Weekly Training</div>
<div class="a" style="left:586px;top:464px;width:12px;height:12px;border-radius:6px;background:#f6d94a"></div>
<div class="t" style="top:457.5px;height:26px;line-height:26px;font-size:28.5px;color:#fff;letter-spacing:0.423px;-webkit-text-stroke:0.3px #fff;left:636px;overflow:hidden;">Proactive communication</div>
<div class="a" style="left:586px;top:532px;width:12px;height:12px;border-radius:6px;background:#e0603a"></div>
<div class="t" style="top:525.5px;height:26px;line-height:26px;font-size:28.5px;color:#fff;letter-spacing:0.258px;-webkit-text-stroke:0.3px #fff;left:636px;overflow:hidden;">Digital Sunset</div>
<div class="a" style="left:586px;top:600px;width:12px;height:12px;border-radius:6px;background:#3d47a6"></div>
<div class="t" style="top:593.5px;height:26px;line-height:26px;font-size:28.5px;color:#fff;letter-spacing:-0.171px;-webkit-text-stroke:0.3px #fff;left:636px;overflow:hidden;">Exercise</div>
<svg class="a" style="left:586.0px;top:658.5px" width="32" height="32" viewBox="-16.0 -16.0 32 32" fill="none" stroke="#4a98e0" stroke-width="2.2" stroke-linecap="round" stroke-linejoin="round"><path d="M-10.5 0H10.5M0 -10.5V10.5"/></svg>
<div class="t" style="top:657.0px;height:35px;line-height:35px;font-size:25px;color:#4a98e0;letter-spacing:-0.564px;left:630.5px;">Add a Habit</div>
<svg class="a" style="left:1060px;top:180px;overflow:hidden;-webkit-mask-image:linear-gradient(90deg,transparent 12.5px,#000 19px);mask-image:linear-gradient(90deg,transparent 12.5px,#000 19px)" width="1820" height="540" viewBox="1060 180 1820 540"><defs><linearGradient id="g0_0" gradientUnits="userSpaceOnUse" x1="944.3" y1="0" x2="1403.7" y2="0"><stop offset="0" stop-color="#64893e"/><stop offset="1" stop-color="#dde9c9"/></linearGradient><linearGradient id="g0_1" gradientUnits="userSpaceOnUse" x1="1488.3" y1="0" x2="1811.7" y2="0"><stop offset="0" stop-color="#64893e"/><stop offset="1" stop-color="#b9cda0"/></linearGradient><linearGradient id="g0_2" gradientUnits="userSpaceOnUse" x1="1896.3" y1="0" x2="2015.7" y2="0"><stop offset="0" stop-color="#64893e"/><stop offset="1" stop-color="#83a262"/></linearGradient><linearGradient id="g0_5" gradientUnits="userSpaceOnUse" x1="2576.3" y1="0" x2="2831.7" y2="0"><stop offset="0" stop-color="#64893e"/><stop offset="1" stop-color="#a7be8c"/></linearGradient><linearGradient id="g1_0" gradientUnits="userSpaceOnUse" x1="1216.3" y1="0" x2="1539.7" y2="0"><stop offset="0" stop-color="#3a818c"/><stop offset="1" stop-color="#92ccd5"/></linearGradient><linearGradient id="g1_5" gradientUnits="userSpaceOnUse" x1="2440.3" y1="0" x2="2627.7" y2="0"><stop offset="0" stop-color="#3a818c"/><stop offset="1" stop-color="#6dadb6"/></linearGradient><linearGradient id="g1_6" gradientUnits="userSpaceOnUse" x1="2712.3" y1="0" x2="2831.7" y2="0"><stop offset="0" stop-color="#3a818c"/><stop offset="1" stop-color="#5b9da7"/></linearGradient><linearGradient id="g2_0" gradientUnits="userSpaceOnUse" x1="1080.3" y1="0" x2="1471.7" y2="0"><stop offset="0" stop-color="#fcec60"/><stop offset="1" stop-color="#fef7b6"/></linearGradient><linearGradient id="g2_2" gradientUnits="userSpaceOnUse" x1="1964.3" y1="0" x2="2151.7" y2="0"><stop offset="0" stop-color="#fcec60"/><stop offset="1" stop-color="#fdf189"/></linearGradient><linearGradient id="g3_0" gradientUnits="userSpaceOnUse" x1="944.3" y1="0" x2="1131.7" y2="0"><stop offset="0" stop-color="#c84f29"/><stop offset="1" stop-color="#d87b5d"/></linearGradient><linearGradient id="g3_1" gradientUnits="userSpaceOnUse" x1="1284.3" y1="0" x2="1471.7" y2="0"><stop offset="0" stop-color="#c84f29"/><stop offset="1" stop-color="#d87b5d"/></linearGradient><linearGradient id="g3_2" gradientUnits="userSpaceOnUse" x1="1556.3" y1="0" x2="2083.7" y2="0"><stop offset="0" stop-color="#c84f29"/><stop offset="1" stop-color="#f5cabb"/></linearGradient><linearGradient id="g3_3" gradientUnits="userSpaceOnUse" x1="2168.3" y1="0" x2="2355.7" y2="0"><stop offset="0" stop-color="#c84f29"/><stop offset="1" stop-color="#d87b5d"/></linearGradient><linearGradient id="g3_4" gradientUnits="userSpaceOnUse" x1="2440.3" y1="0" x2="2559.7" y2="0"><stop offset="0" stop-color="#c84f29"/><stop offset="1" stop-color="#d26b4a"/></linearGradient><linearGradient id="g4_0" gradientUnits="userSpaceOnUse" x1="1080.3" y1="0" x2="1403.7" y2="0"><stop offset="0" stop-color="#2b358e"/><stop offset="1" stop-color="#9aa0ce"/></linearGradient><linearGradient id="g4_2" gradientUnits="userSpaceOnUse" x1="1624.3" y1="0" x2="1811.7" y2="0"><stop offset="0" stop-color="#2b358e"/><stop offset="1" stop-color="#6b73b3"/></linearGradient><linearGradient id="g4_4" gradientUnits="userSpaceOnUse" x1="2236.3" y1="0" x2="2423.7" y2="0"><stop offset="0" stop-color="#2b358e"/><stop offset="1" stop-color="#6b73b3"/></linearGradient><linearGradient id="g4_5" gradientUnits="userSpaceOnUse" x1="2508.3" y1="0" x2="2831.7" y2="0"><stop offset="0" stop-color="#2b358e"/><stop offset="1" stop-color="#9aa0ce"/></linearGradient></defs><rect x="1072" y="192" width="136" height="516" rx="13" fill="#0c1126"/><rect x="1548" y="192" width="136" height="516" rx="13" fill="#0c1126"/><rect x="2024" y="192" width="136" height="516" rx="13" fill="#0c1126"/><rect x="2500" y="192" width="136" height="516" rx="13" fill="#0c1126"/><circle cx="1446" cy="334" r="23.1" fill="none" stroke="#34374c" stroke-width="2"/><circle cx="1854" cy="334" r="23.1" fill="none" stroke="#34374c" stroke-width="2"/><circle cx="2058" cy="334" r="23.1" fill="none" stroke="#34374c" stroke-width="2"/><circle cx="2194" cy="334" r="23.1" fill="none" stroke="#34374c" stroke-width="2"/><circle cx="2262" cy="334" r="23.1" fill="none" stroke="#34374c" stroke-width="2"/><circle cx="2330" cy="334" r="23.1" fill="none" stroke="#34374c" stroke-width="2"/><circle cx="2466" cy="334" r="23.1" fill="none" stroke="#34374c" stroke-width="2"/><circle cx="2534" cy="334" r="23.1" fill="none" stroke="#34374c" stroke-width="2"/><circle cx="1106" cy="402" r="23.1" fill="none" stroke="#34374c" stroke-width="2"/><circle cx="1174" cy="402" r="23.1" fill="none" stroke="#34374c" stroke-width="2"/><circle cx="1582" cy="402" r="23.1" fill="none" stroke="#34374c" stroke-width="2"/><circle cx="1650" cy="402" r="23.1" fill="none" stroke="#34374c" stroke-width="2"/><circle cx="1718" cy="402" r="23.1" fill="none" stroke="#34374c" stroke-width="2"/><circle cx="1854" cy="402" r="23.1" fill="none" stroke="#34374c" stroke-width="2"/><circle cx="1990" cy="402" r="23.1" fill="none" stroke="#34374c" stroke-width="2"/><circle cx="2058" cy="402" r="23.1" fill="none" stroke="#34374c" stroke-width="2"/><circle cx="2194" cy="402" r="23.1" fill="none" stroke="#34374c" stroke-width="2"/><circle cx="2330" cy="402" r="23.1" fill="none" stroke="#34374c" stroke-width="2"/><circle cx="2398" cy="402" r="23.1" fill="none" stroke="#34374c" stroke-width="2"/><circle cx="2670" cy="402" r="23.1" fill="none" stroke="#34374c" stroke-width="2"/><circle cx="1514" cy="470" r="23.1" fill="none" stroke="#34374c" stroke-width="2"/><circle cx="1582" cy="470" r="23.1" fill="none" stroke="#34374c" stroke-width="2"/><circle cx="1650" cy="470" r="23.1" fill="none" stroke="#34374c" stroke-width="2"/><circle cx="1786" cy="470" r="23.1" fill="none" stroke="#34374c" stroke-width="2"/><circle cx="1854" cy="470" r="23.1" fill="none" stroke="#34374c" stroke-width="2"/><circle cx="1922" cy="470" r="23.1" fill="none" stroke="#34374c" stroke-width="2"/><circle cx="2194" cy="470" r="23.1" fill="none" stroke="#34374c" stroke-width="2"/><circle cx="2262" cy="470" r="23.1" fill="none" stroke="#34374c" stroke-width="2"/><circle cx="2398" cy="470" r="23.1" fill="none" stroke="#34374c" stroke-width="2"/><circle cx="2466" cy="470" r="23.1" fill="none" stroke="#34374c" stroke-width="2"/><circle cx="2602" cy="470" r="23.1" fill="none" stroke="#34374c" stroke-width="2"/><circle cx="2738" cy="470" r="23.1" fill="none" stroke="#34374c" stroke-width="2"/><circle cx="1174" cy="538" r="23.1" fill="none" stroke="#34374c" stroke-width="2"/><circle cx="1242" cy="538" r="23.1" fill="none" stroke="#34374c" stroke-width="2"/><circle cx="1514" cy="538" r="23.1" fill="none" stroke="#34374c" stroke-width="2"/><circle cx="2126" cy="538" r="23.1" fill="none" stroke="#34374c" stroke-width="2"/><circle cx="2398" cy="538" r="23.1" fill="none" stroke="#34374c" stroke-width="2"/><circle cx="2602" cy="538" r="23.1" fill="none" stroke="#34374c" stroke-width="2"/><circle cx="2738" cy="538" r="23.1" fill="none" stroke="#34374c" stroke-width="2"/><circle cx="1446" cy="606" r="23.1" fill="none" stroke="#34374c" stroke-width="2"/><circle cx="1582" cy="606" r="23.1" fill="none" stroke="#34374c" stroke-width="2"/><circle cx="1854" cy="606" r="23.1" fill="none" stroke="#34374c" stroke-width="2"/><circle cx="1922" cy="606" r="23.1" fill="none" stroke="#34374c" stroke-width="2"/><circle cx="1990" cy="606" r="23.1" fill="none" stroke="#34374c" stroke-width="2"/><circle cx="2058" cy="606" r="23.1" fill="none" stroke="#34374c" stroke-width="2"/><circle cx="2194" cy="606" r="23.1" fill="none" stroke="#34374c" stroke-width="2"/><circle cx="2466" cy="606" r="23.1" fill="none" stroke="#34374c" stroke-width="2"/><path d="M944.30 334A25.7 25.7 0 0 1 970.00 308.30C983.60 308.30 990.40 320.70 1004.00 320.70C1017.60 320.70 1024.40 308.30 1038.00 308.30C1051.60 308.30 1058.40 320.70 1072.00 320.70C1085.60 320.70 1092.40 308.30 1106.00 308.30C1119.60 308.30 1126.40 320.70 1140.00 320.70C1153.60 320.70 1160.40 308.30 1174.00 308.30C1187.60 308.30 1194.40 320.70 1208.00 320.70C1221.60 320.70 1228.40 308.30 1242.00 308.30C1255.60 308.30 1262.40 320.70 1276.00 320.70C1289.60 320.70 1296.40 308.30 1310.00 308.30C1323.60 308.30 1330.40 320.70 1344.00 320.70C1357.60 320.70 1364.40 308.30 1378.00 308.30A25.7 25.7 0 0 1 1378.00 359.70C1364.40 359.70 1357.60 347.30 1344.00 347.30C1330.40 347.30 1323.60 359.70 1310.00 359.70C1296.40 359.70 1289.60 347.30 1276.00 347.30C1262.40 347.30 1255.60 359.70 1242.00 359.70C1228.40 359.70 1221.60 347.30 1208.00 347.30C1194.40 347.30 1187.60 359.70 1174.00 359.70C1160.40 359.70 1153.60 347.30 1140.00 347.30C1126.40 347.30 1119.60 359.70 1106.00 359.70C1092.40 359.70 1085.60 347.30 1072.00 347.30C1058.40 347.30 1051.60 359.70 1038.00 359.70C1024.40 359.70 1017.60 347.30 1004.00 347.30C990.40 347.30 983.60 359.70 970.00 359.70A25.7 25.7 0 0 1 944.30 334Z" fill="url(#g0_0)" fill-rule="evenodd"/><path d="M1488.30 334A25.7 25.7 0 0 1 1514.00 308.30C1527.60 308.30 1534.40 320.70 1548.00 320.70C1561.60 320.70 1568.40 308.30 1582.00 308.30C1595.60 308.30 1602.40 320.70 1616.00 320.70C1629.60 320.70 1636.40 308.30 1650.00 308.30C1663.60 308.30 1670.40 320.70 1684.00 320.70C1697.60 320.70 1704.40 308.30 1718.00 308.30C1731.60 308.30 1738.40 320.70 1752.00 320.70C1765.60 320.70 1772.40 308.30 1786.00 308.30A25.7 25.7 0 0 1 1786.00 359.70C1772.40 359.70 1765.60 347.30 1752.00 347.30C1738.40 347.30 1731.60 359.70 1718.00 359.70C1704.40 359.70 1697.60 347.30 1684.00 347.30C1670.40 347.30 1663.60 359.70 1650.00 359.70C1636.40 359.70 1629.60 347.30 1616.00 347.30C1602.40 347.30 1595.60 359.70 1582.00 359.70C1568.40 359.70 1561.60 347.30 1548.00 347.30C1534.40 347.30 1527.60 359.70 1514.00 359.70A25.7 25.7 0 0 1 1488.30 334ZM1500 334a14 14 0 1 0 28 0a14 14 0 1 0 -28 0Z" fill="url(#g0_1)" fill-rule="evenodd"/><path d="M1896.30 334A25.7 25.7 0 0 1 1922.00 308.30C1935.60 308.30 1942.40 320.70 1956.00 320.70C1969.60 320.70 1976.40 308.30 1990.00 308.30A25.7 25.7 0 0 1 1990.00 359.70C1976.40 359.70 1969.60 347.30 1956.00 347.30C1942.40 347.30 1935.60 359.70 1922.00 359.70A25.7 25.7 0 0 1 1896.30 334ZM1908 334a14 14 0 1 0 28 0a14 14 0 1 0 -28 0Z" fill="url(#g0_2)" fill-rule="evenodd"/><path d="M2100.30 334A25.7 25.7 0 0 1 2126.00 308.30A25.7 25.7 0 0 1 2126.00 359.70A25.7 25.7 0 0 1 2100.30 334ZM2112 334a14 14 0 1 0 28 0a14 14 0 1 0 -28 0Z" fill="#64893e" fill-rule="evenodd"/><path d="M2372.30 334A25.7 25.7 0 0 1 2398.00 308.30A25.7 25.7 0 0 1 2398.00 359.70A25.7 25.7 0 0 1 2372.30 334ZM2384 334a14 14 0 1 0 28 0a14 14 0 1 0 -28 0Z" fill="#64893e" fill-rule="evenodd"/><path d="M2576.30 334A25.7 25.7 0 0 1 2602.00 308.30C2615.60 308.30 2622.40 320.70 2636.00 320.70C2649.60 320.70 2656.40 308.30 2670.00 308.30C2683.60 308.30 2690.40 320.70 2704.00 320.70C2717.60 320.70 2724.40 308.30 2738.00 308.30C2751.60 308.30 2758.40 320.70 2772.00 320.70C2785.60 320.70 2792.40 308.30 2806.00 308.30A25.7 25.7 0 0 1 2806.00 359.70C2792.40 359.70 2785.60 347.30 2772.00 347.30C2758.40 347.30 2751.60 359.70 2738.00 359.70C2724.40 359.70 2717.60 347.30 2704.00 347.30C2690.40 347.30 2683.60 359.70 2670.00 359.70C2656.40 359.70 2649.60 347.30 2636.00 347.30C2622.40 347.30 2615.60 359.70 2602.00 359.70A25.7 25.7 0 0 1 2576.30 334Z" fill="url(#g0_5)" fill-rule="evenodd"/><path d="M1216.30 402A25.7 25.7 0 0 1 1242.00 376.30C1255.60 376.30 1262.40 388.70 1276.00 388.70C1289.60 388.70 1296.40 376.30 1310.00 376.30C1323.60 376.30 1330.40 388.70 1344.00 388.70C1357.60 388.70 1364.40 376.30 1378.00 376.30C1391.60 376.30 1398.40 388.70 1412.00 388.70C1425.60 388.70 1432.40 376.30 1446.00 376.30C1459.60 376.30 1466.40 388.70 1480.00 388.70C1493.60 388.70 1500.40 376.30 1514.00 376.30A25.7 25.7 0 0 1 1514.00 427.70C1500.40 427.70 1493.60 415.30 1480.00 415.30C1466.40 415.30 1459.60 427.70 1446.00 427.70C1432.40 427.70 1425.60 415.30 1412.00 415.30C1398.40 415.30 1391.60 427.70 1378.00 427.70C1364.40 427.70 1357.60 415.30 1344.00 415.30C1330.40 415.30 1323.60 427.70 1310.00 427.70C1296.40 427.70 1289.60 415.30 1276.00 415.30C1262.40 415.30 1255.60 427.70 1242.00 427.70A25.7 25.7 0 0 1 1216.30 402Z" fill="url(#g1_0)" fill-rule="evenodd"/><path d="M1760.30 402A25.7 25.7 0 0 1 1786.00 376.30A25.7 25.7 0 0 1 1786.00 427.70A25.7 25.7 0 0 1 1760.30 402Z" fill="#3a818c" fill-rule="evenodd"/><path d="M1896.30 402A25.7 25.7 0 0 1 1922.00 376.30A25.7 25.7 0 0 1 1922.00 427.70A25.7 25.7 0 0 1 1896.30 402Z" fill="#3a818c" fill-rule="evenodd"/><path d="M2100.30 402A25.7 25.7 0 0 1 2126.00 376.30A25.7 25.7 0 0 1 2126.00 427.70A25.7 25.7 0 0 1 2100.30 402Z" fill="#3a818c" fill-rule="evenodd"/><path d="M2236.30 402A25.7 25.7 0 0 1 2262.00 376.30A25.7 25.7 0 0 1 2262.00 427.70A25.7 25.7 0 0 1 2236.30 402Z" fill="#3a818c" fill-rule="evenodd"/><path d="M2440.30 402A25.7 25.7 0 0 1 2466.00 376.30C2479.60 376.30 2486.40 388.70 2500.00 388.70C2513.60 388.70 2520.40 376.30 2534.00 376.30C2547.60 376.30 2554.40 388.70 2568.00 388.70C2581.60 388.70 2588.40 376.30 2602.00 376.30A25.7 25.7 0 0 1 2602.00 427.70C2588.40 427.70 2581.60 415.30 2568.00 415.30C2554.40 415.30 2547.60 427.70 2534.00 427.70C2520.40 427.70 2513.60 415.30 2500.00 415.30C2486.40 415.30 2479.60 427.70 2466.00 427.70A25.7 25.7 0 0 1 2440.30 402Z" fill="url(#g1_5)" fill-rule="evenodd"/><path d="M2712.30 402A25.7 25.7 0 0 1 2738.00 376.30C2751.60 376.30 2758.40 388.70 2772.00 388.70C2785.60 388.70 2792.40 376.30 2806.00 376.30A25.7 25.7 0 0 1 2806.00 427.70C2792.40 427.70 2785.60 415.30 2772.00 415.30C2758.40 415.30 2751.60 427.70 2738.00 427.70A25.7 25.7 0 0 1 2712.30 402Z" fill="url(#g1_6)" fill-rule="evenodd"/><path d="M1080.30 470A25.7 25.7 0 0 1 1106.00 444.30C1119.60 444.30 1126.40 456.70 1140.00 456.70C1153.60 456.70 1160.40 444.30 1174.00 444.30C1187.60 444.30 1194.40 456.70 1208.00 456.70C1221.60 456.70 1228.40 444.30 1242.00 444.30C1255.60 444.30 1262.40 456.70 1276.00 456.70C1289.60 456.70 1296.40 444.30 1310.00 444.30C1323.60 444.30 1330.40 456.70 1344.00 456.70C1357.60 456.70 1364.40 444.30 1378.00 444.30C1391.60 444.30 1398.40 456.70 1412.00 456.70C1425.60 456.70 1432.40 444.30 1446.00 444.30A25.7 25.7 0 0 1 1446.00 495.70C1432.40 495.70 1425.60 483.30 1412.00 483.30C1398.40 483.30 1391.60 495.70 1378.00 495.70C1364.40 495.70 1357.60 483.30 1344.00 483.30C1330.40 483.30 1323.60 495.70 1310.00 495.70C1296.40 495.70 1289.60 483.30 1276.00 483.30C1262.40 483.30 1255.60 495.70 1242.00 495.70C1228.40 495.70 1221.60 483.30 1208.00 483.30C1194.40 483.30 1187.60 495.70 1174.00 495.70C1160.40 495.70 1153.60 483.30 1140.00 483.30C1126.40 483.30 1119.60 495.70 1106.00 495.70A25.7 25.7 0 0 1 1080.30 470Z" fill="url(#g2_0)" fill-rule="evenodd"/><path d="M1692.30 470A25.7 25.7 0 0 1 1718.00 444.30A25.7 25.7 0 0 1 1718.00 495.70A25.7 25.7 0 0 1 1692.30 470Z" fill="#fcec60" fill-rule="evenodd"/><path d="M1964.30 470A25.7 25.7 0 0 1 1990.00 444.30C2003.60 444.30 2010.40 456.70 2024.00 456.70C2037.60 456.70 2044.40 444.30 2058.00 444.30C2071.60 444.30 2078.40 456.70 2092.00 456.70C2105.60 456.70 2112.40 444.30 2126.00 444.30A25.7 25.7 0 0 1 2126.00 495.70C2112.40 495.70 2105.60 483.30 2092.00 483.30C2078.40 483.30 2071.60 495.70 2058.00 495.70C2044.40 495.70 2037.60 483.30 2024.00 483.30C2010.40 483.30 2003.60 495.70 1990.00 495.70A25.7 25.7 0 0 1 1964.30 470Z" fill="url(#g2_2)" fill-rule="evenodd"/><path d="M2304.30 470A25.7 25.7 0 0 1 2330.00 444.30A25.7 25.7 0 0 1 2330.00 495.70A25.7 25.7 0 0 1 2304.30 470Z" fill="#fcec60" fill-rule="evenodd"/><path d="M2508.30 470A25.7 25.7 0 0 1 2534.00 444.30A25.7 25.7 0 0 1 2534.00 495.70A25.7 25.7 0 0 1 2508.30 470Z" fill="#fcec60" fill-rule="evenodd"/><path d="M2644.30 470A25.7 25.7 0 0 1 2670.00 444.30A25.7 25.7 0 0 1 2670.00 495.70A25.7 25.7 0 0 1 2644.30 470Z" fill="#fcec60" fill-rule="evenodd"/><path d="M2780.30 470A25.7 25.7 0 0 1 2806.00 444.30A25.7 25.7 0 0 1 2806.00 495.70A25.7 25.7 0 0 1 2780.30 470ZM2792 470a14 14 0 1 0 28 0a14 14 0 1 0 -28 0Z" fill="#fcec60" fill-rule="evenodd"/><path d="M944.30 538A25.7 25.7 0 0 1 970.00 512.30C983.60 512.30 990.40 524.70 1004.00 524.70C1017.60 524.70 1024.40 512.30 1038.00 512.30C1051.60 512.30 1058.40 524.70 1072.00 524.70C1085.60 524.70 1092.40 512.30 1106.00 512.30A25.7 25.7 0 0 1 1106.00 563.70C1092.40 563.70 1085.60 551.30 1072.00 551.30C1058.40 551.30 1051.60 563.70 1038.00 563.70C1024.40 563.70 1017.60 551.30 1004.00 551.30C990.40 551.30 983.60 563.70 970.00 563.70A25.7 25.7 0 0 1 944.30 538Z" fill="url(#g3_0)" fill-rule="evenodd"/><path d="M1284.30 538A25.7 25.7 0 0 1 1310.00 512.30C1323.60 512.30 1330.40 524.70 1344.00 524.70C1357.60 524.70 1364.40 512.30 1378.00 512.30C1391.60 512.30 1398.40 524.70 1412.00 524.70C1425.60 524.70 1432.40 512.30 1446.00 512.30A25.7 25.7 0 0 1 1446.00 563.70C1432.40 563.70 1425.60 551.30 1412.00 551.30C1398.40 551.30 1391.60 563.70 1378.00 563.70C1364.40 563.70 1357.60 551.30 1344.00 551.30C1330.40 551.30 1323.60 563.70 1310.00 563.70A25.7 25.7 0 0 1 1284.30 538Z" fill="url(#g3_1)" fill-rule="evenodd"/><path d="M1556.30 538A25.7 25.7 0 0 1 1582.00 512.30C1595.60 512.30 1602.40 524.70 1616.00 524.70C1629.60 524.70 1636.40 512.30 1650.00 512.30C1663.60 512.30 1670.40 524.70 1684.00 524.70C1697.60 524.70 1704.40 512.30 1718.00 512.30C1731.60 512.30 1738.40 524.70 1752.00 524.70C1765.60 524.70 1772.40 512.30 1786.00 512.30C1799.60 512.30 1806.40 524.70 1820.00 524.70C1833.60 524.70 1840.40 512.30 1854.00 512.30C1867.60 512.30 1874.40 524.70 1888.00 524.70C1901.60 524.70 1908.40 512.30 1922.00 512.30C1935.60 512.30 1942.40 524.70 1956.00 524.70C1969.60 524.70 1976.40 512.30 1990.00 512.30C2003.60 512.30 2010.40 524.70 2024.00 524.70C2037.60 524.70 2044.40 512.30 2058.00 512.30A25.7 25.7 0 0 1 2058.00 563.70C2044.40 563.70 2037.60 551.30 2024.00 551.30C2010.40 551.30 2003.60 563.70 1990.00 563.70C1976.40 563.70 1969.60 551.30 1956.00 551.30C1942.40 551.30 1935.60 563.70 1922.00 563.70C1908.40 563.70 1901.60 551.30 1888.00 551.30C1874.40 551.30 1867.60 563.70 1854.00 563.70C1840.40 563.70 1833.60 551.30 1820.00 551.30C1806.40 551.30 1799.60 563.70 1786.00 563.70C1772.40 563.70 1765.60 551.30 1752.00 551.30C1738.40 551.30 1731.60 563.70 1718.00 563.70C1704.40 563.70 1697.60 551.30 1684.00 551.30C1670.40 551.30 1663.60 563.70 1650.00 563.70C1636.40 563.70 1629.60 551.30 1616.00 551.30C1602.40 551.30 1595.60 563.70 1582.00 563.70A25.7 25.7 0 0 1 1556.30 538Z" fill="url(#g3_2)" fill-rule="evenodd"/><path d="M2168.30 538A25.7 25.7 0 0 1 2194.00 512.30C2207.60 512.30 2214.40 524.70 2228.00 524.70C2241.60 524.70 2248.40 512.30 2262.00 512.30C2275.60 512.30 2282.40 524.70 2296.00 524.70C2309.60 524.70 2316.40 512.30 2330.00 512.30A25.7 25.7 0 0 1 2330.00 563.70C2316.40 563.70 2309.60 551.30 2296.00 551.30C2282.40 551.30 2275.60 563.70 2262.00 563.70C2248.40 563.70 2241.60 551.30 2228.00 551.30C2214.40 551.30 2207.60 563.70 2194.00 563.70A25.7 25.7 0 0 1 2168.30 538Z" fill="url(#g3_3)" fill-rule="evenodd"/><path d="M2440.30 538A25.7 25.7 0 0 1 2466.00 512.30C2479.60 512.30 2486.40 524.70 2500.00 524.70C2513.60 524.70 2520.40 512.30 2534.00 512.30A25.7 25.7 0 0 1 2534.00 563.70C2520.40 563.70 2513.60 551.30 2500.00 551.30C2486.40 551.30 2479.60 563.70 2466.00 563.70A25.7 25.7 0 0 1 2440.30 538Z" fill="url(#g3_4)" fill-rule="evenodd"/><path d="M2644.30 538A25.7 25.7 0 0 1 2670.00 512.30A25.7 25.7 0 0 1 2670.00 563.70A25.7 25.7 0 0 1 2644.30 538Z" fill="#c84f29" fill-rule="evenodd"/><path d="M2780.30 538A25.7 25.7 0 0 1 2806.00 512.30A25.7 25.7 0 0 1 2806.00 563.70A25.7 25.7 0 0 1 2780.30 538ZM2792 538a14 14 0 1 0 28 0a14 14 0 1 0 -28 0Z" fill="#c84f29" fill-rule="evenodd"/><path d="M1080.30 606A25.7 25.7 0 0 1 1106.00 580.30C1119.60 580.30 1126.40 592.70 1140.00 592.70C1153.60 592.70 1160.40 580.30 1174.00 580.30C1187.60 580.30 1194.40 592.70 1208.00 592.70C1221.60 592.70 1228.40 580.30 1242.00 580.30C1255.60 580.30 1262.40 592.70 1276.00 592.70C1289.60 592.70 1296.40 580.30 1310.00 580.30C1323.60 580.30 1330.40 592.70 1344.00 592.70C1357.60 592.70 1364.40 580.30 1378.00 580.30A25.7 25.7 0 0 1 1378.00 631.70C1364.40 631.70 1357.60 619.30 1344.00 619.30C1330.40 619.30 1323.60 631.70 1310.00 631.70C1296.40 631.70 1289.60 619.30 1276.00 619.30C1262.40 619.30 1255.60 631.70 1242.00 631.70C1228.40 631.70 1221.60 619.30 1208.00 619.30C1194.40 619.30 1187.60 631.70 1174.00 631.70C1160.40 631.70 1153.60 619.30 1140.00 619.30C1126.40 619.30 1119.60 631.70 1106.00 631.70A25.7 25.7 0 0 1 1080.30 606Z" fill="url(#g4_0)" fill-rule="evenodd"/><path d="M1488.30 606A25.7 25.7 0 0 1 1514.00 580.30A25.7 25.7 0 0 1 1514.00 631.70A25.7 25.7 0 0 1 1488.30 606Z" fill="#2b358e" fill-rule="evenodd"/><path d="M1624.30 606A25.7 25.7 0 0 1 1650.00 580.30C1663.60 580.30 1670.40 592.70 1684.00 592.70C1697.60 592.70 1704.40 580.30 1718.00 580.30C1731.60 580.30 1738.40 592.70 1752.00 592.70C1765.60 592.70 1772.40 580.30 1786.00 580.30A25.7 25.7 0 0 1 1786.00 631.70C1772.40 631.70 1765.60 619.30 1752.00 619.30C1738.40 619.30 1731.60 631.70 1718.00 631.70C1704.40 631.70 1697.60 619.30 1684.00 619.30C1670.40 619.30 1663.60 631.70 1650.00 631.70A25.7 25.7 0 0 1 1624.30 606Z" fill="url(#g4_2)" fill-rule="evenodd"/><path d="M2100.30 606A25.7 25.7 0 0 1 2126.00 580.30A25.7 25.7 0 0 1 2126.00 631.70A25.7 25.7 0 0 1 2100.30 606Z" fill="#2b358e" fill-rule="evenodd"/><path d="M2236.30 606A25.7 25.7 0 0 1 2262.00 580.30C2275.60 580.30 2282.40 592.70 2296.00 592.70C2309.60 592.70 2316.40 580.30 2330.00 580.30C2343.60 580.30 2350.40 592.70 2364.00 592.70C2377.60 592.70 2384.40 580.30 2398.00 580.30A25.7 25.7 0 0 1 2398.00 631.70C2384.40 631.70 2377.60 619.30 2364.00 619.30C2350.40 619.30 2343.60 631.70 2330.00 631.70C2316.40 631.70 2309.60 619.30 2296.00 619.30C2282.40 619.30 2275.60 631.70 2262.00 631.70A25.7 25.7 0 0 1 2236.30 606Z" fill="url(#g4_4)" fill-rule="evenodd"/><path d="M2508.30 606A25.7 25.7 0 0 1 2534.00 580.30C2547.60 580.30 2554.40 592.70 2568.00 592.70C2581.60 592.70 2588.40 580.30 2602.00 580.30C2615.60 580.30 2622.40 592.70 2636.00 592.70C2649.60 592.70 2656.40 580.30 2670.00 580.30C2683.60 580.30 2690.40 592.70 2704.00 592.70C2717.60 592.70 2724.40 580.30 2738.00 580.30C2751.60 580.30 2758.40 592.70 2772.00 592.70C2785.60 592.70 2792.40 580.30 2806.00 580.30A25.7 25.7 0 0 1 2806.00 631.70C2792.40 631.70 2785.60 619.30 2772.00 619.30C2758.40 619.30 2751.60 631.70 2738.00 631.70C2724.40 631.70 2717.60 619.30 2704.00 619.30C2690.40 619.30 2683.60 631.70 2670.00 631.70C2656.40 631.70 2649.60 619.30 2636.00 619.30C2622.40 619.30 2615.60 631.70 2602.00 631.70C2588.40 631.70 2581.60 619.30 2568.00 619.30C2554.40 619.30 2547.60 631.70 2534.00 631.70A25.7 25.7 0 0 1 2508.30 606ZM2792 606a14 14 0 1 0 28 0a14 14 0 1 0 -28 0Z" fill="url(#g4_5)" fill-rule="evenodd"/></svg>
<div class="t" style="top:211.0px;height:35px;line-height:35px;font-size:25.5px;color:#9a9fb8;left:906px;width:400px;text-align:center;">20</div>
<div class="t" style="top:243.0px;height:35px;line-height:35px;font-size:25.5px;color:#9a9fb8;left:906px;width:400px;text-align:center;">Sa</div>
<div class="t" style="top:657.0px;height:35px;line-height:35px;font-size:25.5px;color:#9a9fb8;left:906px;width:400px;text-align:center;">4</div>
<div class="t" style="top:211.0px;height:35px;line-height:35px;font-size:25.5px;color:#9a9fb8;left:974px;width:400px;text-align:center;">21</div>
<div class="t" style="top:243.0px;height:35px;line-height:35px;font-size:25.5px;color:#9a9fb8;left:974px;width:400px;text-align:center;">Su</div>
<div class="t" style="top:657.0px;height:35px;line-height:35px;font-size:25.5px;color:#9a9fb8;left:974px;width:400px;text-align:center;">3</div>
<div class="t" style="top:211.0px;height:35px;line-height:35px;font-size:25.5px;color:#9a9fb8;left:1042px;width:400px;text-align:center;">22</div>
<div class="t" style="top:243.0px;height:35px;line-height:35px;font-size:25.5px;color:#9a9fb8;left:1042px;width:400px;text-align:center;">Mo</div>
<div class="t" style="top:657.0px;height:35px;line-height:35px;font-size:25.5px;color:#9a9fb8;left:1042px;width:400px;text-align:center;">4</div>
<div class="t" style="top:211.0px;height:35px;line-height:35px;font-size:25.5px;color:#9a9fb8;left:1110px;width:400px;text-align:center;">23</div>
<div class="t" style="top:243.0px;height:35px;line-height:35px;font-size:25.5px;color:#9a9fb8;left:1110px;width:400px;text-align:center;">Tu</div>
<div class="t" style="top:657.0px;height:35px;line-height:35px;font-size:25.5px;color:#9a9fb8;left:1110px;width:400px;text-align:center;">5</div>
<div class="t" style="top:211.0px;height:35px;line-height:35px;font-size:25.5px;color:#9a9fb8;left:1178px;width:400px;text-align:center;">24</div>
<div class="t" style="top:243.0px;height:35px;line-height:35px;font-size:25.5px;color:#9a9fb8;left:1178px;width:400px;text-align:center;">We</div>
<div class="t" style="top:657.0px;height:35px;line-height:35px;font-size:25.5px;color:#9a9fb8;left:1178px;width:400px;text-align:center;">5</div>
<div class="t" style="top:211.0px;height:35px;line-height:35px;font-size:25.5px;color:#9a9fb8;left:1246px;width:400px;text-align:center;">25</div>
<div class="t" style="top:243.0px;height:35px;line-height:35px;font-size:25.5px;color:#9a9fb8;left:1246px;width:400px;text-align:center;">Th</div>
<div class="t" style="top:657.0px;height:35px;line-height:35px;font-size:25.5px;color:#9a9fb8;left:1246px;width:400px;text-align:center;">3</div>
<div class="t" style="top:211.0px;height:35px;line-height:35px;font-size:25.5px;color:#9a9fb8;left:1314px;width:400px;text-align:center;">26</div>
<div class="t" style="top:243.0px;height:35px;line-height:35px;font-size:25.5px;color:#9a9fb8;left:1314px;width:400px;text-align:center;">Fr</div>
<div class="t" style="top:657.0px;height:35px;line-height:35px;font-size:25.5px;color:#9a9fb8;left:1314px;width:400px;text-align:center;">3</div>
<div class="t" style="top:211.0px;height:35px;line-height:35px;font-size:25.5px;color:#9a9fb8;left:1382px;width:400px;text-align:center;">27</div>
<div class="t" style="top:243.0px;height:35px;line-height:35px;font-size:25.5px;color:#9a9fb8;left:1382px;width:400px;text-align:center;">Sa</div>
<div class="t" style="top:657.0px;height:35px;line-height:35px;font-size:25.5px;color:#9a9fb8;left:1382px;width:400px;text-align:center;">2</div>
<div class="t" style="top:211.0px;height:35px;line-height:35px;font-size:25.5px;color:#9a9fb8;left:1450px;width:400px;text-align:center;">28</div>
<div class="t" style="top:243.0px;height:35px;line-height:35px;font-size:25.5px;color:#9a9fb8;left:1450px;width:400px;text-align:center;">Su</div>
<div class="t" style="top:657.0px;height:35px;line-height:35px;font-size:25.5px;color:#9a9fb8;left:1450px;width:400px;text-align:center;">3</div>
<div class="t" style="top:211.0px;height:35px;line-height:35px;font-size:25.5px;color:#9a9fb8;left:1518px;width:400px;text-align:center;">29</div>
<div class="t" style="top:243.0px;height:35px;line-height:35px;font-size:25.5px;color:#9a9fb8;left:1518px;width:400px;text-align:center;">Mo</div>
<div class="t" style="top:657.0px;height:35px;line-height:35px;font-size:25.5px;color:#9a9fb8;left:1518px;width:400px;text-align:center;">4</div>
<div class="t" style="top:211.0px;height:35px;line-height:35px;font-size:25.5px;color:#9a9fb8;left:1586px;width:400px;text-align:center;">30</div>
<div class="t" style="top:243.0px;height:35px;line-height:35px;font-size:25.5px;color:#9a9fb8;left:1586px;width:400px;text-align:center;">Tu</div>
<div class="t" style="top:657.0px;height:35px;line-height:35px;font-size:25.5px;color:#9a9fb8;left:1586px;width:400px;text-align:center;">4</div>
<div class="t" style="top:211.0px;height:35px;line-height:35px;font-size:25.5px;color:#9a9fb8;left:1654px;width:400px;text-align:center;">31</div>
<div class="t" style="top:243.0px;height:35px;line-height:35px;font-size:25.5px;color:#9a9fb8;left:1654px;width:400px;text-align:center;">We</div>
<div class="t" style="top:657.0px;height:35px;line-height:35px;font-size:25.5px;color:#9a9fb8;left:1654px;width:400px;text-align:center;">1</div>
<div class="t" style="top:211.0px;height:35px;line-height:35px;font-size:25.5px;color:#9a9fb8;left:1722px;width:400px;text-align:center;">1</div>
<div class="t" style="top:243.0px;height:35px;line-height:35px;font-size:25.5px;color:#9a9fb8;left:1722px;width:400px;text-align:center;">Th</div>
<div class="t" style="top:657.0px;height:35px;line-height:35px;font-size:25.5px;color:#9a9fb8;left:1722px;width:400px;text-align:center;">3</div>
<div class="t" style="top:211.0px;height:35px;line-height:35px;font-size:25.5px;color:#9a9fb8;left:1790px;width:400px;text-align:center;">2</div>
<div class="t" style="top:243.0px;height:35px;line-height:35px;font-size:25.5px;color:#9a9fb8;left:1790px;width:400px;text-align:center;">Fr</div>
<div class="t" style="top:657.0px;height:35px;line-height:35px;font-size:25.5px;color:#9a9fb8;left:1790px;width:400px;text-align:center;">3</div>
<div class="t" style="top:211.0px;height:35px;line-height:35px;font-size:25.5px;color:#9a9fb8;left:1858px;width:400px;text-align:center;">3</div>
<div class="t" style="top:243.0px;height:35px;line-height:35px;font-size:25.5px;color:#9a9fb8;left:1858px;width:400px;text-align:center;">Sa</div>
<div class="t" style="top:657.0px;height:35px;line-height:35px;font-size:25.5px;color:#9a9fb8;left:1858px;width:400px;text-align:center;">2</div>
<div class="t" style="top:211.0px;height:35px;line-height:35px;font-size:25.5px;color:#9a9fb8;left:1926px;width:400px;text-align:center;">4</div>
<div class="t" style="top:243.0px;height:35px;line-height:35px;font-size:25.5px;color:#9a9fb8;left:1926px;width:400px;text-align:center;">Su</div>
<div class="t" style="top:657.0px;height:35px;line-height:35px;font-size:25.5px;color:#9a9fb8;left:1926px;width:400px;text-align:center;">4</div>
<div class="t" style="top:211.0px;height:35px;line-height:35px;font-size:25.5px;color:#9a9fb8;left:1994px;width:400px;text-align:center;">5</div>
<div class="t" style="top:243.0px;height:35px;line-height:35px;font-size:25.5px;color:#9a9fb8;left:1994px;width:400px;text-align:center;">Mo</div>
<div class="t" style="top:657.0px;height:35px;line-height:35px;font-size:25.5px;color:#9a9fb8;left:1994px;width:400px;text-align:center;">1</div>
<div class="t" style="top:211.0px;height:35px;line-height:35px;font-size:25.5px;color:#9a9fb8;left:2062px;width:400px;text-align:center;">6</div>
<div class="t" style="top:243.0px;height:35px;line-height:35px;font-size:25.5px;color:#9a9fb8;left:2062px;width:400px;text-align:center;">Tu</div>
<div class="t" style="top:657.0px;height:35px;line-height:35px;font-size:25.5px;color:#9a9fb8;left:2062px;width:400px;text-align:center;">3</div>
<div class="t" style="top:211.0px;height:35px;line-height:35px;font-size:25.5px;color:#9a9fb8;left:2130px;width:400px;text-align:center;">7</div>
<div class="t" style="top:243.0px;height:35px;line-height:35px;font-size:25.5px;color:#9a9fb8;left:2130px;width:400px;text-align:center;">We</div>
<div class="t" style="top:657.0px;height:35px;line-height:35px;font-size:25.5px;color:#9a9fb8;left:2130px;width:400px;text-align:center;">3</div>
<div class="t" style="top:211.0px;height:35px;line-height:35px;font-size:25.5px;color:#9a9fb8;left:2198px;width:400px;text-align:center;">8</div>
<div class="t" style="top:243.0px;height:35px;line-height:35px;font-size:25.5px;color:#9a9fb8;left:2198px;width:400px;text-align:center;">Th</div>
<div class="t" style="top:657.0px;height:35px;line-height:35px;font-size:25.5px;color:#9a9fb8;left:2198px;width:400px;text-align:center;">2</div>
<div class="t" style="top:211.0px;height:35px;line-height:35px;font-size:25.5px;color:#9a9fb8;left:2266px;width:400px;text-align:center;">9</div>
<div class="t" style="top:243.0px;height:35px;line-height:35px;font-size:25.5px;color:#9a9fb8;left:2266px;width:400px;text-align:center;">Fr</div>
<div class="t" style="top:657.0px;height:35px;line-height:35px;font-size:25.5px;color:#9a9fb8;left:2266px;width:400px;text-align:center;">2</div>
<div class="t" style="top:211.0px;height:35px;line-height:35px;font-size:25.5px;color:#9a9fb8;left:2334px;width:400px;text-align:center;">10</div>
<div class="t" style="top:243.0px;height:35px;line-height:35px;font-size:25.5px;color:#9a9fb8;left:2334px;width:400px;text-align:center;">Sa</div>
<div class="t" style="top:657.0px;height:35px;line-height:35px;font-size:25.5px;color:#9a9fb8;left:2334px;width:400px;text-align:center;">4</div>
<div class="t" style="top:211.0px;height:35px;line-height:35px;font-size:25.5px;color:#9a9fb8;left:2402px;width:400px;text-align:center;">11</div>
<div class="t" style="top:243.0px;height:35px;line-height:35px;font-size:25.5px;color:#9a9fb8;left:2402px;width:400px;text-align:center;">Su</div>
<div class="t" style="top:657.0px;height:35px;line-height:35px;font-size:25.5px;color:#9a9fb8;left:2402px;width:400px;text-align:center;">3</div>
<div class="t" style="top:211.0px;height:35px;line-height:35px;font-size:25.5px;color:#9a9fb8;left:2470px;width:400px;text-align:center;">12</div>
<div class="t" style="top:243.0px;height:35px;line-height:35px;font-size:25.5px;color:#9a9fb8;left:2470px;width:400px;text-align:center;">Mo</div>
<div class="t" style="top:657.0px;height:35px;line-height:35px;font-size:25.5px;color:#9a9fb8;left:2470px;width:400px;text-align:center;">4</div>
<div class="t" style="top:211.0px;height:35px;line-height:35px;font-size:25.5px;color:#9a9fb8;left:2538px;width:400px;text-align:center;">13</div>
<div class="t" style="top:243.0px;height:35px;line-height:35px;font-size:25.5px;color:#9a9fb8;left:2538px;width:400px;text-align:center;">Tu</div>
<div class="t" style="top:657.0px;height:35px;line-height:35px;font-size:25.5px;color:#9a9fb8;left:2538px;width:400px;text-align:center;">3</div>
<div class="t" style="top:211.0px;height:35px;line-height:35px;font-size:25.5px;color:#fff;left:2606px;width:400px;text-align:center;">14</div>
<div class="t" style="top:243.0px;height:35px;line-height:35px;font-size:25.5px;color:#fff;left:2606px;width:400px;text-align:center;">We</div>
<div class="t" style="top:657.0px;height:35px;line-height:35px;font-size:25.5px;color:#fff;left:2606px;width:400px;text-align:center;">5</div>
<div class="a" style="left:572px;top:732px;width:496px;height:288px;border:2px solid #21263b;border-radius:17px"></div>
<div class="t" style="top:753.0px;height:35px;line-height:35px;font-size:25px;color:#fff;letter-spacing:-0.024px;-webkit-text-stroke:0.35px #fff;left:614px;">Popular Habit</div>
<div class="t" style="top:802.6px;height:90px;line-height:90px;font-size:76px;color:#fff;left:612.5px;transform:scaleX(0.932);transform-origin:0 50%;">73%</div>
<div class="a" style="left:614px;top:906px;width:198px;height:40px;border-radius:20px;background:#e5623a"></div>
<div class="t" style="top:909.0px;height:35px;line-height:35px;font-size:25px;color:#0a0d1e;letter-spacing:0.212px;-webkit-text-stroke:0.5px #0a0d1e;left:634.5px;">Digital Sunset</div>
<div class="t" style="top:969.0px;height:35px;line-height:35px;font-size:25px;color:#8c91a8;letter-spacing:-0.646px;left:614px;">Longest streak — 17 days</div>
<div class="a" style="left:1096px;top:732px;width:496px;height:288px;border:2px solid #21263b;border-radius:17px"></div>
<div class="t" style="top:753.0px;height:35px;line-height:35px;font-size:25px;color:#fff;letter-spacing:-0.333px;-webkit-text-stroke:0.35px #fff;left:1138px;">Rare Habit</div>
<div class="t" style="top:802.6px;height:90px;line-height:90px;font-size:76px;color:#fff;left:1139.5px;transform:scaleX(0.875);transform-origin:0 50%;">41%</div>
<div class="a" style="left:1138px;top:906px;width:215.5px;height:40px;border-radius:20px;background:#4ea9c1"></div>
<div class="t" style="top:909.0px;height:35px;line-height:35px;font-size:25px;color:#0a0d1e;letter-spacing:-0.179px;-webkit-text-stroke:0.5px #0a0d1e;left:1158.5px;">Weekly Training</div>
<div class="t" style="top:969.0px;height:35px;line-height:35px;font-size:25px;color:#8c91a8;letter-spacing:-0.402px;left:1138px;">Longest streak — 5 days</div>
<div class="a" style="left:1620px;top:732px;width:496px;height:288px;border:2px solid #21263b;border-radius:17px"></div>
<div class="t" style="top:753.0px;height:35px;line-height:35px;font-size:25px;color:#fff;letter-spacing:-0.034px;-webkit-text-stroke:0.35px #fff;left:1662px;">On average completed</div>
<div class="t" style="top:802.6px;height:90px;line-height:90px;font-size:76px;color:#fff;left:1663px;transform:scaleX(0.892);transform-origin:0 50%;">61%</div>
<div class="t" style="top:909.0px;height:35px;line-height:35px;font-size:25px;color:#fff;letter-spacing:-0.228px;-webkit-text-stroke:0.35px #fff;left:1662px;">Good job!</div>
<svg class="a" style="left:1775.0px;top:912.5px" width="25" height="30" viewBox="0 0 40 40" preserveAspectRatio="none"><title>👍</title><path d="M2 18Q2 16.6 3.4 16.6H9V34H3.4Q2 34 2 32.6Z" fill="#f2b42a"/>
<path d="M9.6 18Q14.6 13 15.6 5.6Q16 2 19.6 3Q23 4.6 21.4 12.6L21 15H32Q36 15.4 35.4 19Q37.6 21.6 35.4 24.6Q36.6 27.6 34 29.6Q34.4 33.6 30.4 34H17.6Q13.6 34 9.6 32Z" fill="#fcc83c"/>
<path d="M27 20H35.4M27.400000000000002 24.8H35.4M27 29.6H34" stroke="#e09a1c" stroke-width="1.1" fill="none"/></svg>
<div class="t" style="top:969.0px;height:35px;line-height:35px;font-size:25px;color:#8c91a8;letter-spacing:0.116px;left:1662px;">Completed habits 140 times</div>
<div class="a" style="left:572px;top:1688px;width:318px;height:96px;border-radius:18px;background:#0c1125"></div>
<div class="a" style="left:588px;top:1704px;width:206px;height:64px;border-radius:9px;background:#111a33"></div>
<svg class="a" style="left:602.0px;top:1720.0px" width="32" height="32" viewBox="-16.0 -16.0 32 32" fill="none" stroke="#4a98e0" stroke-width="2.3" stroke-linecap="round" stroke-linejoin="round"><path d="M-10.5 0H10.5M0 -10.5V10.5"/></svg>
<div class="t" style="top:1720.0px;height:32px;line-height:32px;font-size:23.5px;color:#4a98e0;font-weight:700;letter-spacing:-0.206px;left:647px;">Add a Habit</div>
<svg class="a" style="left:824.0px;top:1718.0px" width="36" height="36" viewBox="-18.0 -18.0 36 36" fill="none" stroke="#9498ad" stroke-width="2.4" stroke-linecap="round" stroke-linejoin="round"><path d="M-12.2 -11.3H12.2"/><path d="M-4.4 -12.6H4.4" stroke-width="3.2"/><path d="M-9.6 -11V10.8Q-9.6 13.3 -7.1 13.3H7.1Q9.6 13.3 9.6 10.8V-11"/><path d="M-3.1 -5.6V7.6M3.1 -5.6V7.6"/></svg>
<script>(function(){var w=window.innerWidth;if(w&&Math.abs(w-2880)>2){document.documentElement.style.zoom=w/2880;}})();</script>
</body></html>
